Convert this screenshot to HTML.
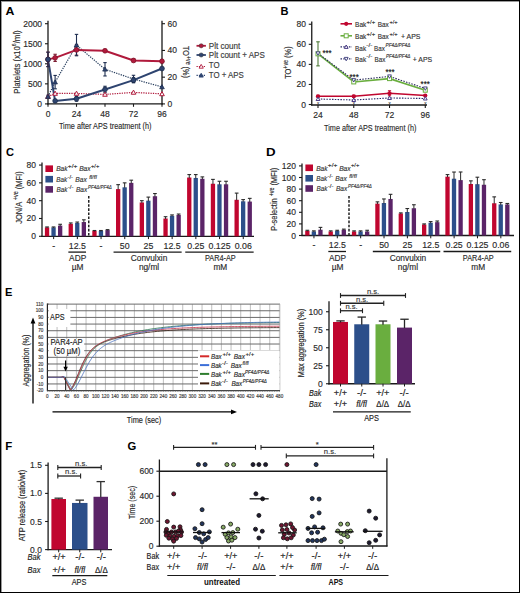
<!DOCTYPE html>
<html><head><meta charset="utf-8"><style>
html,body{margin:0;padding:0;background:#fff;}
svg{display:block;font-family:"Liberation Sans",sans-serif;}
</style></head><body>
<svg width="520" height="593" viewBox="0 0 520 593">
<rect x="0" y="0" width="520" height="593" fill="#fff"/>
<text x="5.6" y="15.4" font-size="11.5" fill="#000" font-weight="bold" textLength="8.9" lengthAdjust="spacingAndGlyphs">A</text>
<line x1="48" y1="20.8" x2="48" y2="104.4" stroke="#1a1a1a" stroke-width="1.3"/>
<line x1="47.35" y1="103.8" x2="162.6" y2="103.8" stroke="#1a1a1a" stroke-width="1.3"/>
<line x1="162" y1="20.8" x2="162" y2="104.4" stroke="#1a1a1a" stroke-width="1.3"/>
<line x1="45" y1="103.9" x2="48" y2="103.9" stroke="#1a1a1a" stroke-width="1.1"/>
<text x="42.1" y="106.9" font-size="8.5" fill="#2a2a2a" stroke="#2a2a2a" stroke-width="0.15" text-anchor="end">0</text>
<line x1="45" y1="83.85" x2="48" y2="83.85" stroke="#1a1a1a" stroke-width="1.1"/>
<text x="42.1" y="86.85" font-size="8.5" fill="#2a2a2a" stroke="#2a2a2a" stroke-width="0.15" text-anchor="end">500</text>
<line x1="45" y1="63.8" x2="48" y2="63.8" stroke="#1a1a1a" stroke-width="1.1"/>
<text x="42.1" y="66.8" font-size="8.5" fill="#2a2a2a" stroke="#2a2a2a" stroke-width="0.15" text-anchor="end">1000</text>
<line x1="45" y1="43.75" x2="48" y2="43.75" stroke="#1a1a1a" stroke-width="1.1"/>
<text x="42.1" y="46.75" font-size="8.5" fill="#2a2a2a" stroke="#2a2a2a" stroke-width="0.15" text-anchor="end">1500</text>
<line x1="45" y1="23.7" x2="48" y2="23.7" stroke="#1a1a1a" stroke-width="1.1"/>
<text x="42.1" y="26.7" font-size="8.5" fill="#2a2a2a" stroke="#2a2a2a" stroke-width="0.15" text-anchor="end">2000</text>
<line x1="162" y1="103.9" x2="165" y2="103.9" stroke="#1a1a1a" stroke-width="1.1"/>
<text x="167.6" y="106.9" font-size="8.5" fill="#2a2a2a" stroke="#2a2a2a" stroke-width="0.15">0</text>
<line x1="162" y1="77.17" x2="165" y2="77.17" stroke="#1a1a1a" stroke-width="1.1"/>
<text x="167.6" y="80.17" font-size="8.5" fill="#2a2a2a" stroke="#2a2a2a" stroke-width="0.15">20</text>
<line x1="162" y1="50.43" x2="165" y2="50.43" stroke="#1a1a1a" stroke-width="1.1"/>
<text x="167.6" y="53.43" font-size="8.5" fill="#2a2a2a" stroke="#2a2a2a" stroke-width="0.15">40</text>
<line x1="162" y1="23.7" x2="165" y2="23.7" stroke="#1a1a1a" stroke-width="1.1"/>
<text x="167.6" y="26.7" font-size="8.5" fill="#2a2a2a" stroke="#2a2a2a" stroke-width="0.15">60</text>
<line x1="48" y1="103.8" x2="48" y2="106.8" stroke="#1a1a1a" stroke-width="1.1"/>
<text x="48" y="117" font-size="8.5" fill="#2a2a2a" stroke="#2a2a2a" stroke-width="0.15" text-anchor="middle">0</text>
<line x1="76.5" y1="103.8" x2="76.5" y2="106.8" stroke="#1a1a1a" stroke-width="1.1"/>
<text x="76.5" y="117" font-size="8.5" fill="#2a2a2a" stroke="#2a2a2a" stroke-width="0.15" text-anchor="middle">24</text>
<line x1="105" y1="103.8" x2="105" y2="106.8" stroke="#1a1a1a" stroke-width="1.1"/>
<text x="105" y="117" font-size="8.5" fill="#2a2a2a" stroke="#2a2a2a" stroke-width="0.15" text-anchor="middle">48</text>
<line x1="133.5" y1="103.8" x2="133.5" y2="106.8" stroke="#1a1a1a" stroke-width="1.1"/>
<text x="133.5" y="117" font-size="8.5" fill="#2a2a2a" stroke="#2a2a2a" stroke-width="0.15" text-anchor="middle">72</text>
<line x1="162" y1="103.8" x2="162" y2="106.8" stroke="#1a1a1a" stroke-width="1.1"/>
<text x="162" y="117" font-size="8.5" fill="#2a2a2a" stroke="#2a2a2a" stroke-width="0.15" text-anchor="middle">96</text>
<text x="105.2" y="129.4" font-size="9.9" fill="#2a2a2a" stroke="#2a2a2a" stroke-width="0.15" text-anchor="middle" textLength="92.5" lengthAdjust="spacingAndGlyphs">Time after APS treatment (h)</text>
<text transform="translate(19.6,62) rotate(-90)" font-size="9.3" fill="#2a2a2a" stroke="#2a2a2a" stroke-width="0.15" text-anchor="middle" textLength="63.5" lengthAdjust="spacingAndGlyphs">Platelets (x10<tspan font-size="6" dy="-3.3">6</tspan><tspan dy="3.3">/ml)</tspan></text>
<text transform="translate(182.6,62) rotate(90)" font-size="9.2" fill="#2a2a2a" stroke="#2a2a2a" stroke-width="0.15" text-anchor="middle" textLength="32" lengthAdjust="spacingAndGlyphs">TO<tspan font-size="6.5" dy="-3.3">+ve</tspan><tspan dy="3.3"> (%)</tspan></text>
<polyline points="48,96.55 55.12,93.47 76.5,93.47 105,94.41 133.5,92.4 162,93.87" fill="none" stroke="#b01a3c" stroke-width="1.2" stroke-dasharray="1.3,1.1" stroke-linejoin="round"/>
<polyline points="48,96.55 55.12,82.11 76.5,45.09 105,69.28 133.5,79.04 162,86.92" fill="none" stroke="#2a4060" stroke-width="1.2" stroke-dasharray="1.3,1.1" stroke-linejoin="round"/>
<polyline points="48,59.39 55.12,57.87 76.5,49.93 105,50.77 133.5,60.47 162,61.27" fill="none" stroke="#b01a3c" stroke-width="2" stroke-linejoin="round"/>
<polyline points="48,59.39 55.12,100.89 76.5,98.81 105,89.46 133.5,80.08 162,68.53" fill="none" stroke="#2e4470" stroke-width="2" stroke-linejoin="round"/>
<line x1="48" y1="66.61" x2="48" y2="52.17" stroke="#7a1a30" stroke-width="1.1"/>
<line x1="46.3" y1="52.17" x2="49.7" y2="52.17" stroke="#7a1a30" stroke-width="1.1"/>
<line x1="46.3" y1="66.61" x2="49.7" y2="66.61" stroke="#7a1a30" stroke-width="1.1"/>
<line x1="55.12" y1="61.47" x2="55.12" y2="54.26" stroke="#7a1a30" stroke-width="1.1"/>
<line x1="53.42" y1="54.26" x2="56.83" y2="54.26" stroke="#7a1a30" stroke-width="1.1"/>
<line x1="53.42" y1="61.47" x2="56.83" y2="61.47" stroke="#7a1a30" stroke-width="1.1"/>
<line x1="76.5" y1="55.14" x2="76.5" y2="44.71" stroke="#7a1a30" stroke-width="1.1"/>
<line x1="74.8" y1="44.71" x2="78.2" y2="44.71" stroke="#7a1a30" stroke-width="1.1"/>
<line x1="74.8" y1="55.14" x2="78.2" y2="55.14" stroke="#7a1a30" stroke-width="1.1"/>
<line x1="133.5" y1="61.88" x2="133.5" y2="59.07" stroke="#7a1a30" stroke-width="1.1"/>
<line x1="131.8" y1="59.07" x2="135.2" y2="59.07" stroke="#7a1a30" stroke-width="1.1"/>
<line x1="131.8" y1="61.88" x2="135.2" y2="61.88" stroke="#7a1a30" stroke-width="1.1"/>
<line x1="48" y1="66.61" x2="48" y2="52.17" stroke="#1e2e50" stroke-width="1.1"/>
<line x1="46.3" y1="52.17" x2="49.7" y2="52.17" stroke="#1e2e50" stroke-width="1.1"/>
<line x1="46.3" y1="66.61" x2="49.7" y2="66.61" stroke="#1e2e50" stroke-width="1.1"/>
<line x1="76.5" y1="101.21" x2="76.5" y2="96.4" stroke="#1e2e50" stroke-width="1.1"/>
<line x1="74.8" y1="96.4" x2="78.2" y2="96.4" stroke="#1e2e50" stroke-width="1.1"/>
<line x1="74.8" y1="101.21" x2="78.2" y2="101.21" stroke="#1e2e50" stroke-width="1.1"/>
<line x1="105" y1="92.67" x2="105" y2="86.26" stroke="#1e2e50" stroke-width="1.1"/>
<line x1="103.3" y1="86.26" x2="106.7" y2="86.26" stroke="#1e2e50" stroke-width="1.1"/>
<line x1="103.3" y1="92.67" x2="106.7" y2="92.67" stroke="#1e2e50" stroke-width="1.1"/>
<line x1="133.5" y1="82.49" x2="133.5" y2="77.67" stroke="#1e2e50" stroke-width="1.1"/>
<line x1="131.8" y1="77.67" x2="135.2" y2="77.67" stroke="#1e2e50" stroke-width="1.1"/>
<line x1="131.8" y1="82.49" x2="135.2" y2="82.49" stroke="#1e2e50" stroke-width="1.1"/>
<line x1="48" y1="97.88" x2="48" y2="95.21" stroke="#1e2e50" stroke-width="1.1"/>
<line x1="46.3" y1="95.21" x2="49.7" y2="95.21" stroke="#1e2e50" stroke-width="1.1"/>
<line x1="46.3" y1="97.88" x2="49.7" y2="97.88" stroke="#1e2e50" stroke-width="1.1"/>
<line x1="55.12" y1="88.8" x2="55.12" y2="75.43" stroke="#1e2e50" stroke-width="1.1"/>
<line x1="53.42" y1="75.43" x2="56.83" y2="75.43" stroke="#1e2e50" stroke-width="1.1"/>
<line x1="53.42" y1="88.8" x2="56.83" y2="88.8" stroke="#1e2e50" stroke-width="1.1"/>
<line x1="76.5" y1="55.78" x2="76.5" y2="34.39" stroke="#1e2e50" stroke-width="1.1"/>
<line x1="74.8" y1="34.39" x2="78.2" y2="34.39" stroke="#1e2e50" stroke-width="1.1"/>
<line x1="74.8" y1="55.78" x2="78.2" y2="55.78" stroke="#1e2e50" stroke-width="1.1"/>
<line x1="105" y1="75.96" x2="105" y2="62.6" stroke="#1e2e50" stroke-width="1.1"/>
<line x1="103.3" y1="62.6" x2="106.7" y2="62.6" stroke="#1e2e50" stroke-width="1.1"/>
<line x1="103.3" y1="75.96" x2="106.7" y2="75.96" stroke="#1e2e50" stroke-width="1.1"/>
<line x1="133.5" y1="82.78" x2="133.5" y2="75.29" stroke="#1e2e50" stroke-width="1.1"/>
<line x1="131.8" y1="75.29" x2="135.2" y2="75.29" stroke="#1e2e50" stroke-width="1.1"/>
<line x1="131.8" y1="82.78" x2="135.2" y2="82.78" stroke="#1e2e50" stroke-width="1.1"/>
<polygon points="45.7,98.39 50.3,98.39 48,94.25" fill="#b01a3c" stroke="#b01a3c" stroke-width="1"/>
<polygon points="52.83,95.31 57.42,95.31 55.12,91.17" fill="white" stroke="#b01a3c" stroke-width="1"/>
<polygon points="74.2,95.31 78.8,95.31 76.5,91.17" fill="white" stroke="#b01a3c" stroke-width="1"/>
<polygon points="102.7,96.25 107.3,96.25 105,92.11" fill="white" stroke="#b01a3c" stroke-width="1"/>
<polygon points="131.2,94.24 135.8,94.24 133.5,90.1" fill="white" stroke="#b01a3c" stroke-width="1"/>
<polygon points="159.7,95.71 164.3,95.71 162,91.57" fill="white" stroke="#b01a3c" stroke-width="1"/>
<polygon points="45.7,98.39 50.3,98.39 48,94.25" fill="#2e4470" stroke="#1e2e50" stroke-width="0.8"/>
<polygon points="52.83,83.95 57.42,83.95 55.12,79.81" fill="#2e4470" stroke="#1e2e50" stroke-width="0.8"/>
<polygon points="74.2,46.93 78.8,46.93 76.5,42.79" fill="#2e4470" stroke="#1e2e50" stroke-width="0.8"/>
<polygon points="102.7,71.12 107.3,71.12 105,66.98" fill="#2e4470" stroke="#1e2e50" stroke-width="0.8"/>
<polygon points="131.2,80.88 135.8,80.88 133.5,76.74" fill="#2e4470" stroke="#1e2e50" stroke-width="0.8"/>
<polygon points="159.7,88.76 164.3,88.76 162,84.62" fill="#2e4470" stroke="#1e2e50" stroke-width="0.8"/>
<circle cx="48" cy="59.39" r="2.4" fill="#b01a3c" stroke="#7a1025" stroke-width="0.7"/>
<circle cx="55.12" cy="57.87" r="2.4" fill="#b01a3c" stroke="#7a1025" stroke-width="0.7"/>
<circle cx="76.5" cy="49.93" r="2.4" fill="#b01a3c" stroke="#7a1025" stroke-width="0.7"/>
<circle cx="105" cy="50.77" r="2.4" fill="#b01a3c" stroke="#7a1025" stroke-width="0.7"/>
<circle cx="133.5" cy="60.47" r="2.4" fill="#b01a3c" stroke="#7a1025" stroke-width="0.7"/>
<circle cx="162" cy="61.27" r="2.4" fill="#b01a3c" stroke="#7a1025" stroke-width="0.7"/>
<circle cx="48" cy="59.39" r="2.4" fill="#2e4470" stroke="#1a2a48" stroke-width="0.7"/>
<circle cx="55.12" cy="100.89" r="2.4" fill="#2e4470" stroke="#1a2a48" stroke-width="0.7"/>
<circle cx="76.5" cy="98.81" r="2.4" fill="#2e4470" stroke="#1a2a48" stroke-width="0.7"/>
<circle cx="105" cy="89.46" r="2.4" fill="#2e4470" stroke="#1a2a48" stroke-width="0.7"/>
<circle cx="133.5" cy="80.08" r="2.4" fill="#2e4470" stroke="#1a2a48" stroke-width="0.7"/>
<circle cx="162" cy="68.53" r="2.4" fill="#2e4470" stroke="#1a2a48" stroke-width="0.7"/>
<line x1="196.5" y1="45.8" x2="205.9" y2="45.8" stroke="#b01a3c" stroke-width="1.8"/>
<circle cx="201.2" cy="45.8" r="2.1" fill="#b01a3c" stroke="#333" stroke-width="0.5"/>
<text x="208.8" y="49" font-size="8.4" fill="#3a3a3a" stroke="#3a3a3a" stroke-width="0.15" textLength="31.5" lengthAdjust="spacingAndGlyphs">Plt count</text>
<line x1="196.5" y1="55" x2="205.9" y2="55" stroke="#2e4470" stroke-width="1.8"/>
<circle cx="201.2" cy="55" r="2.1" fill="#2e4470" stroke="#333" stroke-width="0.5"/>
<text x="208.8" y="57.7" font-size="8.4" fill="#3a3a3a" stroke="#3a3a3a" stroke-width="0.15" textLength="56" lengthAdjust="spacingAndGlyphs">Plt count + APS</text>
<line x1="196.5" y1="66.5" x2="205.9" y2="66.5" stroke="#b01a3c" stroke-width="1.1" stroke-dasharray="1.3,1.1"/>
<polygon points="199.1,68.18 203.3,68.18 201.2,64.4" fill="white" stroke="#b01a3c" stroke-width="0.9"/>
<text x="208.8" y="68.4" font-size="8.4" fill="#3a3a3a" stroke="#3a3a3a" stroke-width="0.15" textLength="10.8" lengthAdjust="spacingAndGlyphs">TO</text>
<line x1="196.5" y1="75.4" x2="205.9" y2="75.4" stroke="#2e4470" stroke-width="1.1" stroke-dasharray="1.3,1.1"/>
<polygon points="199.1,77.08 203.3,77.08 201.2,73.3" fill="#2e4470" stroke="#2e4470" stroke-width="0.9"/>
<text x="208.8" y="78.4" font-size="8.4" fill="#3a3a3a" stroke="#3a3a3a" stroke-width="0.15" textLength="35" lengthAdjust="spacingAndGlyphs">TO + APS</text>
<text x="280.5" y="15.3" font-size="11.5" fill="#000" font-weight="bold" textLength="8" lengthAdjust="spacingAndGlyphs">B</text>
<line x1="311.75" y1="21.5" x2="311.75" y2="105.6" stroke="#1a1a1a" stroke-width="1.3"/>
<line x1="311.1" y1="105" x2="427" y2="105" stroke="#1a1a1a" stroke-width="1.3"/>
<line x1="308.75" y1="104.5" x2="311.75" y2="104.5" stroke="#1a1a1a" stroke-width="1.1"/>
<text x="305.9" y="107.5" font-size="8.5" fill="#2a2a2a" stroke="#2a2a2a" stroke-width="0.15" text-anchor="end">0</text>
<line x1="308.75" y1="84.44" x2="311.75" y2="84.44" stroke="#1a1a1a" stroke-width="1.1"/>
<text x="305.9" y="87.44" font-size="8.5" fill="#2a2a2a" stroke="#2a2a2a" stroke-width="0.15" text-anchor="end">20</text>
<line x1="308.75" y1="64.38" x2="311.75" y2="64.38" stroke="#1a1a1a" stroke-width="1.1"/>
<text x="305.9" y="67.38" font-size="8.5" fill="#2a2a2a" stroke="#2a2a2a" stroke-width="0.15" text-anchor="end">40</text>
<line x1="308.75" y1="44.32" x2="311.75" y2="44.32" stroke="#1a1a1a" stroke-width="1.1"/>
<text x="305.9" y="47.32" font-size="8.5" fill="#2a2a2a" stroke="#2a2a2a" stroke-width="0.15" text-anchor="end">60</text>
<line x1="308.75" y1="24.26" x2="311.75" y2="24.26" stroke="#1a1a1a" stroke-width="1.1"/>
<text x="305.9" y="27.26" font-size="8.5" fill="#2a2a2a" stroke="#2a2a2a" stroke-width="0.15" text-anchor="end">80</text>
<line x1="318" y1="105" x2="318" y2="108" stroke="#1a1a1a" stroke-width="1.1"/>
<text x="318" y="118" font-size="8.5" fill="#2a2a2a" stroke="#2a2a2a" stroke-width="0.15" text-anchor="middle">24</text>
<line x1="353.76" y1="105" x2="353.76" y2="108" stroke="#1a1a1a" stroke-width="1.1"/>
<text x="353.76" y="118" font-size="8.5" fill="#2a2a2a" stroke="#2a2a2a" stroke-width="0.15" text-anchor="middle">48</text>
<line x1="389.52" y1="105" x2="389.52" y2="108" stroke="#1a1a1a" stroke-width="1.1"/>
<text x="389.52" y="118" font-size="8.5" fill="#2a2a2a" stroke="#2a2a2a" stroke-width="0.15" text-anchor="middle">72</text>
<line x1="425.28" y1="105" x2="425.28" y2="108" stroke="#1a1a1a" stroke-width="1.1"/>
<text x="425.28" y="118" font-size="8.5" fill="#2a2a2a" stroke="#2a2a2a" stroke-width="0.15" text-anchor="middle">96</text>
<text x="370.2" y="130.5" font-size="9.9" fill="#2a2a2a" stroke="#2a2a2a" stroke-width="0.15" text-anchor="middle" textLength="92.3" lengthAdjust="spacingAndGlyphs">Time after APS treatment (h)</text>
<text transform="translate(291,62.6) rotate(-90)" font-size="9.2" fill="#2a2a2a" stroke="#2a2a2a" stroke-width="0.15" text-anchor="middle" textLength="32.5" lengthAdjust="spacingAndGlyphs">TO<tspan font-size="6.5" dy="-3.3">+ve</tspan><tspan dy="3.3"> (%)</tspan></text>
<polyline points="318,98.98 353.76,99.99 389.52,97.98 425.28,98.48" fill="none" stroke="#2a2a6a" stroke-width="1.1" stroke-dasharray="1.5,1.3" stroke-linejoin="round"/>
<polyline points="318,53.85 353.76,81.93 389.52,78.62 425.28,90.16" fill="none" stroke="#6aae3f" stroke-width="1.6" stroke-linejoin="round"/>
<polyline points="318,53.35 353.76,80.13 389.52,76.42 425.28,88.45" fill="none" stroke="#2a2a5a" stroke-width="1.1" stroke-dasharray="1.5,1.3" stroke-linejoin="round"/>
<polyline points="318,96.28 353.76,96.28 389.52,93.27 425.28,95.57" fill="none" stroke="#c0062f" stroke-width="1.6" stroke-linejoin="round"/>
<line x1="318" y1="65.88" x2="318" y2="41.81" stroke="#4f7a3a" stroke-width="1.1"/>
<line x1="316.2" y1="41.81" x2="319.8" y2="41.81" stroke="#4f7a3a" stroke-width="1.1"/>
<line x1="316.2" y1="65.88" x2="319.8" y2="65.88" stroke="#4f7a3a" stroke-width="1.1"/>
<line x1="353.76" y1="83.44" x2="353.76" y2="80.43" stroke="#4f7a3a" stroke-width="1.1"/>
<line x1="351.96" y1="80.43" x2="355.56" y2="80.43" stroke="#4f7a3a" stroke-width="1.1"/>
<line x1="351.96" y1="83.44" x2="355.56" y2="83.44" stroke="#4f7a3a" stroke-width="1.1"/>
<line x1="389.52" y1="80.13" x2="389.52" y2="77.12" stroke="#4f7a3a" stroke-width="1.1"/>
<line x1="387.72" y1="77.12" x2="391.32" y2="77.12" stroke="#4f7a3a" stroke-width="1.1"/>
<line x1="387.72" y1="80.13" x2="391.32" y2="80.13" stroke="#4f7a3a" stroke-width="1.1"/>
<line x1="425.28" y1="91.66" x2="425.28" y2="88.65" stroke="#4f7a3a" stroke-width="1.1"/>
<line x1="423.48" y1="88.65" x2="427.08" y2="88.65" stroke="#4f7a3a" stroke-width="1.1"/>
<line x1="423.48" y1="91.66" x2="427.08" y2="91.66" stroke="#4f7a3a" stroke-width="1.1"/>
<line x1="318" y1="97.28" x2="318" y2="95.27" stroke="#c0062f" stroke-width="1"/>
<line x1="316.4" y1="95.27" x2="319.6" y2="95.27" stroke="#c0062f" stroke-width="1"/>
<line x1="316.4" y1="97.28" x2="319.6" y2="97.28" stroke="#c0062f" stroke-width="1"/>
<line x1="353.76" y1="97.28" x2="353.76" y2="95.27" stroke="#c0062f" stroke-width="1"/>
<line x1="352.16" y1="95.27" x2="355.36" y2="95.27" stroke="#c0062f" stroke-width="1"/>
<line x1="352.16" y1="97.28" x2="355.36" y2="97.28" stroke="#c0062f" stroke-width="1"/>
<line x1="389.52" y1="95.77" x2="389.52" y2="90.76" stroke="#c0062f" stroke-width="1"/>
<line x1="387.92" y1="90.76" x2="391.12" y2="90.76" stroke="#c0062f" stroke-width="1"/>
<line x1="387.92" y1="95.77" x2="391.12" y2="95.77" stroke="#c0062f" stroke-width="1"/>
<line x1="425.28" y1="96.58" x2="425.28" y2="94.57" stroke="#c0062f" stroke-width="1"/>
<line x1="423.68" y1="94.57" x2="426.88" y2="94.57" stroke="#c0062f" stroke-width="1"/>
<line x1="423.68" y1="96.58" x2="426.88" y2="96.58" stroke="#c0062f" stroke-width="1"/>
<rect x="316" y="51.85" width="4" height="4" fill="white" stroke="#6aae3f" stroke-width="1"/>
<rect x="351.76" y="79.93" width="4" height="4" fill="white" stroke="#6aae3f" stroke-width="1"/>
<rect x="387.52" y="76.62" width="4" height="4" fill="white" stroke="#6aae3f" stroke-width="1"/>
<rect x="423.28" y="88.16" width="4" height="4" fill="white" stroke="#6aae3f" stroke-width="1"/>
<polygon points="316.1,51.83 319.9,51.83 318,55.25" fill="white" stroke="#3a3a7a" stroke-width="0.9"/>
<polygon points="351.86,78.61 355.66,78.61 353.76,82.03" fill="white" stroke="#3a3a7a" stroke-width="0.9"/>
<polygon points="387.62,74.9 391.42,74.9 389.52,78.32" fill="white" stroke="#3a3a7a" stroke-width="0.9"/>
<polygon points="423.38,86.93 427.18,86.93 425.28,90.35" fill="white" stroke="#3a3a7a" stroke-width="0.9"/>
<circle cx="318" cy="96.28" r="2.1" fill="#c0062f"/>
<circle cx="353.76" cy="96.28" r="2.1" fill="#c0062f"/>
<circle cx="389.52" cy="93.27" r="2.1" fill="#c0062f"/>
<circle cx="425.28" cy="95.57" r="2.1" fill="#c0062f"/>
<polygon points="316.1,100.5 319.9,100.5 318,97.08" fill="white" stroke="#3a2a7a" stroke-width="0.9"/>
<polygon points="351.86,101.51 355.66,101.51 353.76,98.09" fill="white" stroke="#3a2a7a" stroke-width="0.9"/>
<polygon points="387.62,99.5 391.42,99.5 389.52,96.08" fill="white" stroke="#3a2a7a" stroke-width="0.9"/>
<polygon points="423.38,100 427.18,100 425.28,96.58" fill="white" stroke="#3a2a7a" stroke-width="0.9"/>
<text x="318" y="105" font-size="4.5" fill="#444" stroke="#444" stroke-width="0.15" text-anchor="middle">x</text>
<text x="353.76" y="105" font-size="4.5" fill="#444" stroke="#444" stroke-width="0.15" text-anchor="middle">x</text>
<text x="389.52" y="105" font-size="4.5" fill="#444" stroke="#444" stroke-width="0.15" text-anchor="middle">x</text>
<text x="425.28" y="105" font-size="4.5" fill="#444" stroke="#444" stroke-width="0.15" text-anchor="middle">x</text>
<text x="327" y="55.5" font-size="9" fill="#111" stroke="#111" stroke-width="0.15" text-anchor="middle" textLength="9.2" lengthAdjust="spacingAndGlyphs">***</text>
<text x="354.1" y="80.2" font-size="9" fill="#111" stroke="#111" stroke-width="0.15" text-anchor="middle" textLength="9.2" lengthAdjust="spacingAndGlyphs">***</text>
<text x="390" y="75.1" font-size="9" fill="#111" stroke="#111" stroke-width="0.15" text-anchor="middle" textLength="9.2" lengthAdjust="spacingAndGlyphs">***</text>
<text x="425.2" y="86.7" font-size="9" fill="#111" stroke="#111" stroke-width="0.15" text-anchor="middle" textLength="9.2" lengthAdjust="spacingAndGlyphs">***</text>
<line x1="340.5" y1="23.8" x2="352" y2="23.8" stroke="#c0062f" stroke-width="1.6"/>
<circle cx="346.2" cy="23.8" r="2.1" fill="#c0062f"/>
<line x1="340.5" y1="35.8" x2="352" y2="35.8" stroke="#6aae3f" stroke-width="1.6"/>
<rect x="344.2" y="33.8" width="4" height="4" fill="white" stroke="#6aae3f" stroke-width="1"/>
<line x1="340.5" y1="46.9" x2="352" y2="46.9" stroke="#2a2a6a" stroke-width="1.1" stroke-dasharray="1.5,1.3"/>
<polygon points="344.3,48.42 348.1,48.42 346.2,45" fill="white" stroke="#3a2a7a" stroke-width="0.9"/>
<line x1="340.5" y1="58.9" x2="352" y2="58.9" stroke="#2a2a6a" stroke-width="1.1" stroke-dasharray="1.5,1.3"/>
<polygon points="344.3,57.38 348.1,57.38 346.2,60.8" fill="white" stroke="#3a3a7a" stroke-width="0.9"/>
<text x="355.1" y="27.3" font-size="7.3" fill="#333" stroke="#333" stroke-width="0.15" textLength="11.2" lengthAdjust="spacingAndGlyphs">Bak</text>
<text x="366.6" y="24.1" font-size="5.26" fill="#333" stroke="#333" stroke-width="0.15" textLength="8.5" lengthAdjust="spacingAndGlyphs">+/+</text>
<text x="377.8" y="27.3" font-size="7.3" fill="#333" stroke="#333" stroke-width="0.15" textLength="11" lengthAdjust="spacingAndGlyphs">Bax</text>
<text x="389.5" y="24.1" font-size="5.26" fill="#333" stroke="#333" stroke-width="0.15" textLength="8.1" lengthAdjust="spacingAndGlyphs">+/+</text>
<text x="355.1" y="38.9" font-size="7.3" fill="#333" stroke="#333" stroke-width="0.15" textLength="11.2" lengthAdjust="spacingAndGlyphs">Bak</text>
<text x="366.6" y="35.7" font-size="5.26" fill="#333" stroke="#333" stroke-width="0.15" textLength="8.5" lengthAdjust="spacingAndGlyphs">+/+</text>
<text x="377.8" y="38.9" font-size="7.3" fill="#333" stroke="#333" stroke-width="0.15" textLength="11" lengthAdjust="spacingAndGlyphs">Bax</text>
<text x="389.5" y="35.7" font-size="5.26" fill="#333" stroke="#333" stroke-width="0.15" textLength="8.1" lengthAdjust="spacingAndGlyphs">+/+</text>
<text x="401" y="38.9" font-size="7.3" fill="#333" stroke="#333" stroke-width="0.15" textLength="19.5" lengthAdjust="spacingAndGlyphs">+ APS</text>
<text x="355.1" y="50.5" font-size="7.3" fill="#333" stroke="#333" stroke-width="0.15" textLength="11" lengthAdjust="spacingAndGlyphs">Bak</text>
<text x="366.3" y="47.3" font-size="5.26" fill="#333" stroke="#333" stroke-width="0.15" textLength="6" lengthAdjust="spacingAndGlyphs">-/-</text>
<text x="374" y="50.5" font-size="7.3" fill="#333" stroke="#333" stroke-width="0.15" textLength="10.8" lengthAdjust="spacingAndGlyphs">Bax</text>
<text x="385.5" y="47.3" font-size="5.26" fill="#333" stroke="#333" stroke-width="0.15" font-style="italic" textLength="24.9" lengthAdjust="spacingAndGlyphs">PF4Δ/PF4Δ</text>
<text x="355.1" y="61.5" font-size="7.3" fill="#333" stroke="#333" stroke-width="0.15" textLength="11" lengthAdjust="spacingAndGlyphs">Bak</text>
<text x="366.3" y="58.3" font-size="5.26" fill="#333" stroke="#333" stroke-width="0.15" textLength="6" lengthAdjust="spacingAndGlyphs">-/-</text>
<text x="374.6" y="61.5" font-size="7.3" fill="#333" stroke="#333" stroke-width="0.15" textLength="10.8" lengthAdjust="spacingAndGlyphs">Bax</text>
<text x="385.9" y="58.3" font-size="5.26" fill="#333" stroke="#333" stroke-width="0.15" font-style="italic" textLength="24.5" lengthAdjust="spacingAndGlyphs">PF4Δ/PF4Δ</text>
<text x="412.8" y="61.5" font-size="7.3" fill="#333" stroke="#333" stroke-width="0.15" textLength="19.4" lengthAdjust="spacingAndGlyphs">+ APS</text>
<text x="5.9" y="155.5" font-size="11.5" fill="#000" font-weight="bold" textLength="8" lengthAdjust="spacingAndGlyphs">C</text>
<line x1="42" y1="162.55" x2="42" y2="236.9" stroke="#1a1a1a" stroke-width="1.3"/>
<line x1="41.4" y1="236.3" x2="254" y2="236.3" stroke="#1a1a1a" stroke-width="1.3"/>
<line x1="39" y1="236.3" x2="42" y2="236.3" stroke="#1a1a1a" stroke-width="1.1"/>
<text x="36" y="239.3" font-size="8.5" fill="#2a2a2a" stroke="#2a2a2a" stroke-width="0.15" text-anchor="end">0</text>
<line x1="39" y1="218.49" x2="42" y2="218.49" stroke="#1a1a1a" stroke-width="1.1"/>
<text x="36" y="221.49" font-size="8.5" fill="#2a2a2a" stroke="#2a2a2a" stroke-width="0.15" text-anchor="end">20</text>
<line x1="39" y1="200.68" x2="42" y2="200.68" stroke="#1a1a1a" stroke-width="1.1"/>
<text x="36" y="203.68" font-size="8.5" fill="#2a2a2a" stroke="#2a2a2a" stroke-width="0.15" text-anchor="end">40</text>
<line x1="39" y1="182.86" x2="42" y2="182.86" stroke="#1a1a1a" stroke-width="1.1"/>
<text x="36" y="185.86" font-size="8.5" fill="#2a2a2a" stroke="#2a2a2a" stroke-width="0.15" text-anchor="end">60</text>
<line x1="39" y1="165.05" x2="42" y2="165.05" stroke="#1a1a1a" stroke-width="1.1"/>
<text x="36" y="168.05" font-size="8.5" fill="#2a2a2a" stroke="#2a2a2a" stroke-width="0.15" text-anchor="end">80</text>
<rect x="44.9" y="227.39" width="4.3" height="8.91" fill="#c0062f"/>
<line x1="47.05" y1="227.89" x2="47.05" y2="226.95" stroke="#2a2a2a" stroke-width="1"/>
<line x1="45.2" y1="226.95" x2="48.9" y2="226.95" stroke="#2a2a2a" stroke-width="1.1"/>
<rect x="51.4" y="227.39" width="4.3" height="8.91" fill="#2c4f8a"/>
<line x1="53.55" y1="227.89" x2="53.55" y2="226.95" stroke="#2a2a2a" stroke-width="1"/>
<line x1="51.7" y1="226.95" x2="55.4" y2="226.95" stroke="#2a2a2a" stroke-width="1.1"/>
<rect x="58" y="225.61" width="4.3" height="10.69" fill="#5b2468"/>
<line x1="60.15" y1="226.11" x2="60.15" y2="224.28" stroke="#2a2a2a" stroke-width="1"/>
<line x1="58.3" y1="224.28" x2="62" y2="224.28" stroke="#2a2a2a" stroke-width="1.1"/>
<line x1="53.65" y1="236.3" x2="53.65" y2="239.1" stroke="#1a1a1a" stroke-width="1"/>
<rect x="68.6" y="223.83" width="4.3" height="12.47" fill="#c0062f"/>
<line x1="70.75" y1="224.33" x2="70.75" y2="222.94" stroke="#2a2a2a" stroke-width="1"/>
<line x1="68.9" y1="222.94" x2="72.6" y2="222.94" stroke="#2a2a2a" stroke-width="1.1"/>
<rect x="75.1" y="222.94" width="4.3" height="13.36" fill="#2c4f8a"/>
<line x1="77.25" y1="223.44" x2="77.25" y2="222.05" stroke="#2a2a2a" stroke-width="1"/>
<line x1="75.4" y1="222.05" x2="79.1" y2="222.05" stroke="#2a2a2a" stroke-width="1.1"/>
<rect x="81.7" y="222.05" width="4.3" height="14.25" fill="#5b2468"/>
<line x1="83.85" y1="222.55" x2="83.85" y2="219.82" stroke="#2a2a2a" stroke-width="1"/>
<line x1="82" y1="219.82" x2="85.7" y2="219.82" stroke="#2a2a2a" stroke-width="1.1"/>
<line x1="77.35" y1="236.3" x2="77.35" y2="239.1" stroke="#1a1a1a" stroke-width="1"/>
<rect x="92.3" y="230.96" width="4.3" height="5.34" fill="#c0062f"/>
<line x1="94.45" y1="231.46" x2="94.45" y2="230.51" stroke="#2a2a2a" stroke-width="1"/>
<line x1="92.6" y1="230.51" x2="96.3" y2="230.51" stroke="#2a2a2a" stroke-width="1.1"/>
<rect x="98.8" y="230.96" width="4.3" height="5.34" fill="#2c4f8a"/>
<line x1="100.95" y1="231.46" x2="100.95" y2="230.51" stroke="#2a2a2a" stroke-width="1"/>
<line x1="99.1" y1="230.51" x2="102.8" y2="230.51" stroke="#2a2a2a" stroke-width="1.1"/>
<rect x="105.4" y="230.07" width="4.3" height="6.23" fill="#5b2468"/>
<line x1="107.55" y1="230.57" x2="107.55" y2="229.62" stroke="#2a2a2a" stroke-width="1"/>
<line x1="105.7" y1="229.62" x2="109.4" y2="229.62" stroke="#2a2a2a" stroke-width="1.1"/>
<line x1="101.05" y1="236.3" x2="101.05" y2="239.1" stroke="#1a1a1a" stroke-width="1"/>
<rect x="116" y="189.1" width="4.3" height="47.2" fill="#c0062f"/>
<line x1="118.15" y1="189.6" x2="118.15" y2="184.65" stroke="#2a2a2a" stroke-width="1"/>
<line x1="116.3" y1="184.65" x2="120" y2="184.65" stroke="#2a2a2a" stroke-width="1.1"/>
<rect x="122.5" y="187.32" width="4.3" height="48.98" fill="#2c4f8a"/>
<line x1="124.65" y1="187.82" x2="124.65" y2="182.86" stroke="#2a2a2a" stroke-width="1"/>
<line x1="122.8" y1="182.86" x2="126.5" y2="182.86" stroke="#2a2a2a" stroke-width="1.1"/>
<rect x="129.1" y="182.86" width="4.3" height="53.44" fill="#5b2468"/>
<line x1="131.25" y1="183.36" x2="131.25" y2="180.19" stroke="#2a2a2a" stroke-width="1"/>
<line x1="129.4" y1="180.19" x2="133.1" y2="180.19" stroke="#2a2a2a" stroke-width="1.1"/>
<line x1="124.75" y1="236.3" x2="124.75" y2="239.1" stroke="#1a1a1a" stroke-width="1"/>
<rect x="139.7" y="202.46" width="4.3" height="33.84" fill="#c0062f"/>
<line x1="141.85" y1="202.96" x2="141.85" y2="200.68" stroke="#2a2a2a" stroke-width="1"/>
<line x1="140" y1="200.68" x2="143.7" y2="200.68" stroke="#2a2a2a" stroke-width="1.1"/>
<rect x="146.2" y="200.68" width="4.3" height="35.62" fill="#2c4f8a"/>
<line x1="148.35" y1="201.18" x2="148.35" y2="197.11" stroke="#2a2a2a" stroke-width="1"/>
<line x1="146.5" y1="197.11" x2="150.2" y2="197.11" stroke="#2a2a2a" stroke-width="1.1"/>
<rect x="152.8" y="196.22" width="4.3" height="40.08" fill="#5b2468"/>
<line x1="154.95" y1="196.72" x2="154.95" y2="193.55" stroke="#2a2a2a" stroke-width="1"/>
<line x1="153.1" y1="193.55" x2="156.8" y2="193.55" stroke="#2a2a2a" stroke-width="1.1"/>
<line x1="148.45" y1="236.3" x2="148.45" y2="239.1" stroke="#1a1a1a" stroke-width="1"/>
<rect x="163.4" y="218.49" width="4.3" height="17.81" fill="#c0062f"/>
<line x1="165.55" y1="218.99" x2="165.55" y2="216.71" stroke="#2a2a2a" stroke-width="1"/>
<line x1="163.7" y1="216.71" x2="167.4" y2="216.71" stroke="#2a2a2a" stroke-width="1.1"/>
<rect x="169.9" y="215.82" width="4.3" height="20.48" fill="#2c4f8a"/>
<line x1="172.05" y1="216.32" x2="172.05" y2="214.93" stroke="#2a2a2a" stroke-width="1"/>
<line x1="170.2" y1="214.93" x2="173.9" y2="214.93" stroke="#2a2a2a" stroke-width="1.1"/>
<rect x="176.5" y="214.93" width="4.3" height="21.37" fill="#5b2468"/>
<line x1="178.65" y1="215.43" x2="178.65" y2="214.04" stroke="#2a2a2a" stroke-width="1"/>
<line x1="176.8" y1="214.04" x2="180.5" y2="214.04" stroke="#2a2a2a" stroke-width="1.1"/>
<line x1="172.15" y1="236.3" x2="172.15" y2="239.1" stroke="#1a1a1a" stroke-width="1"/>
<rect x="187.1" y="177.52" width="4.3" height="58.78" fill="#c0062f"/>
<line x1="189.25" y1="178.02" x2="189.25" y2="174.58" stroke="#2a2a2a" stroke-width="1"/>
<line x1="187.4" y1="174.58" x2="191.1" y2="174.58" stroke="#2a2a2a" stroke-width="1.1"/>
<rect x="193.6" y="177.97" width="4.3" height="58.33" fill="#2c4f8a"/>
<line x1="195.75" y1="178.47" x2="195.75" y2="174.58" stroke="#2a2a2a" stroke-width="1"/>
<line x1="193.9" y1="174.58" x2="197.6" y2="174.58" stroke="#2a2a2a" stroke-width="1.1"/>
<rect x="200.2" y="178.77" width="4.3" height="57.53" fill="#5b2468"/>
<line x1="202.35" y1="179.27" x2="202.35" y2="176.9" stroke="#2a2a2a" stroke-width="1"/>
<line x1="200.5" y1="176.9" x2="204.2" y2="176.9" stroke="#2a2a2a" stroke-width="1.1"/>
<line x1="195.85" y1="236.3" x2="195.85" y2="239.1" stroke="#1a1a1a" stroke-width="1"/>
<rect x="210.8" y="183.75" width="4.3" height="52.55" fill="#c0062f"/>
<line x1="212.95" y1="184.25" x2="212.95" y2="179.39" stroke="#2a2a2a" stroke-width="1"/>
<line x1="211.1" y1="179.39" x2="214.8" y2="179.39" stroke="#2a2a2a" stroke-width="1.1"/>
<rect x="217.3" y="184.29" width="4.3" height="52.01" fill="#2c4f8a"/>
<line x1="219.45" y1="184.79" x2="219.45" y2="181.26" stroke="#2a2a2a" stroke-width="1"/>
<line x1="217.6" y1="181.26" x2="221.3" y2="181.26" stroke="#2a2a2a" stroke-width="1.1"/>
<rect x="223.9" y="184.29" width="4.3" height="52.01" fill="#5b2468"/>
<line x1="226.05" y1="184.79" x2="226.05" y2="181.26" stroke="#2a2a2a" stroke-width="1"/>
<line x1="224.2" y1="181.26" x2="227.9" y2="181.26" stroke="#2a2a2a" stroke-width="1.1"/>
<line x1="219.55" y1="236.3" x2="219.55" y2="239.1" stroke="#1a1a1a" stroke-width="1"/>
<rect x="234.5" y="199.79" width="4.3" height="36.51" fill="#c0062f"/>
<line x1="236.65" y1="200.29" x2="236.65" y2="193.11" stroke="#2a2a2a" stroke-width="1"/>
<line x1="234.8" y1="193.11" x2="238.5" y2="193.11" stroke="#2a2a2a" stroke-width="1.1"/>
<rect x="241" y="201.3" width="4.3" height="35" fill="#2c4f8a"/>
<line x1="243.15" y1="201.8" x2="243.15" y2="199.61" stroke="#2a2a2a" stroke-width="1"/>
<line x1="241.3" y1="199.61" x2="245" y2="199.61" stroke="#2a2a2a" stroke-width="1.1"/>
<rect x="247.6" y="201.57" width="4.3" height="34.73" fill="#5b2468"/>
<line x1="249.75" y1="202.07" x2="249.75" y2="198.36" stroke="#2a2a2a" stroke-width="1"/>
<line x1="247.9" y1="198.36" x2="251.6" y2="198.36" stroke="#2a2a2a" stroke-width="1.1"/>
<line x1="243.25" y1="236.3" x2="243.25" y2="239.1" stroke="#1a1a1a" stroke-width="1"/>
<line x1="88.75" y1="196" x2="88.75" y2="236.3" stroke="#222" stroke-width="1.5" stroke-dasharray="2.6,1.5"/>
<text x="53.65" y="248.9" font-size="8.8" fill="#2a2a2a" stroke="#2a2a2a" stroke-width="0.15" text-anchor="middle">-</text>
<text x="77.35" y="248.9" font-size="8.8" fill="#2a2a2a" stroke="#2a2a2a" stroke-width="0.15" text-anchor="middle">12.5</text>
<text x="101.05" y="248.9" font-size="8.8" fill="#2a2a2a" stroke="#2a2a2a" stroke-width="0.15" text-anchor="middle">-</text>
<text x="124.75" y="248.9" font-size="8.8" fill="#2a2a2a" stroke="#2a2a2a" stroke-width="0.15" text-anchor="middle">50</text>
<text x="148.45" y="248.9" font-size="8.8" fill="#2a2a2a" stroke="#2a2a2a" stroke-width="0.15" text-anchor="middle">25</text>
<text x="172.15" y="248.9" font-size="8.8" fill="#2a2a2a" stroke="#2a2a2a" stroke-width="0.15" text-anchor="middle">12.5</text>
<text x="195.85" y="248.9" font-size="8.8" fill="#2a2a2a" stroke="#2a2a2a" stroke-width="0.15" text-anchor="middle">0.25</text>
<text x="219.55" y="248.9" font-size="8.8" fill="#2a2a2a" stroke="#2a2a2a" stroke-width="0.15" text-anchor="middle">0.125</text>
<text x="243.25" y="248.9" font-size="8.8" fill="#2a2a2a" stroke="#2a2a2a" stroke-width="0.15" text-anchor="middle">0.06</text>
<line x1="68.35" y1="252.1" x2="86.05" y2="252.1" stroke="#1a1a1a" stroke-width="1.3"/>
<line x1="113.55" y1="252.1" x2="181.65" y2="252.1" stroke="#1a1a1a" stroke-width="1.3"/>
<line x1="185.25" y1="252.1" x2="253.65" y2="252.1" stroke="#1a1a1a" stroke-width="1.3"/>
<text x="77.65" y="260.5" font-size="8.3" fill="#2a2a2a" stroke="#2a2a2a" stroke-width="0.15" text-anchor="middle">ADP</text>
<text x="77.65" y="270.3" font-size="8.3" fill="#2a2a2a" stroke="#2a2a2a" stroke-width="0.15" text-anchor="middle">µM</text>
<text x="149.05" y="260.5" font-size="8.3" fill="#2a2a2a" stroke="#2a2a2a" stroke-width="0.15" text-anchor="middle">Convulxin</text>
<text x="149.05" y="270.3" font-size="8.3" fill="#2a2a2a" stroke="#2a2a2a" stroke-width="0.15" text-anchor="middle">ng/ml</text>
<text x="220.35" y="260.5" font-size="8.3" fill="#2a2a2a" stroke="#2a2a2a" stroke-width="0.15" text-anchor="middle" textLength="30.8" lengthAdjust="spacingAndGlyphs">PAR4-AP</text>
<text x="220.35" y="270.3" font-size="8.3" fill="#2a2a2a" stroke="#2a2a2a" stroke-width="0.15" text-anchor="middle">mM</text>
<text transform="translate(21.5,197.6) rotate(-90)" font-size="9" fill="#2a2a2a" stroke="#2a2a2a" stroke-width="0.15" text-anchor="middle" textLength="52.5" lengthAdjust="spacingAndGlyphs">JON/A <tspan font-size="6.5" dy="-3.3">+ve</tspan><tspan dy="3.3"> (MFI)</tspan></text>
<rect x="45.4" y="165.4" width="7.6" height="6.6" fill="#c0062f"/>
<rect x="45.4" y="175.9" width="7.6" height="6.6" fill="#2c4f8a"/>
<rect x="45.4" y="186.1" width="7.6" height="6.6" fill="#5b2468"/>
<text x="56.2" y="171.4" font-size="7.5" fill="#333" stroke="#333" stroke-width="0.15" font-style="italic" textLength="11.3" lengthAdjust="spacingAndGlyphs">Bak</text>
<text x="67.8" y="168.2" font-size="5.4" fill="#333" stroke="#333" stroke-width="0.15" textLength="9.6" lengthAdjust="spacingAndGlyphs">+/+</text>
<text x="79.2" y="171.4" font-size="7.5" fill="#333" stroke="#333" stroke-width="0.15" font-style="italic" textLength="11.4" lengthAdjust="spacingAndGlyphs">Bax</text>
<text x="91" y="168.2" font-size="5.4" fill="#333" stroke="#333" stroke-width="0.15" textLength="8.2" lengthAdjust="spacingAndGlyphs">+/+</text>
<text x="56.3" y="182.2" font-size="7.5" fill="#333" stroke="#333" stroke-width="0.15" font-style="italic" textLength="10.8" lengthAdjust="spacingAndGlyphs">Bak</text>
<text x="67.6" y="179" font-size="5.4" fill="#333" stroke="#333" stroke-width="0.15" textLength="5.4" lengthAdjust="spacingAndGlyphs">-/-</text>
<text x="75.3" y="182.2" font-size="7.5" fill="#333" stroke="#333" stroke-width="0.15" font-style="italic" textLength="11.4" lengthAdjust="spacingAndGlyphs">Bax</text>
<text x="89.2" y="179" font-size="5.4" fill="#333" stroke="#333" stroke-width="0.15" font-style="italic" textLength="7.5" lengthAdjust="spacingAndGlyphs">fl/fl</text>
<text x="56.6" y="191.9" font-size="7.5" fill="#333" stroke="#333" stroke-width="0.15" font-style="italic" textLength="10.8" lengthAdjust="spacingAndGlyphs">Bak</text>
<text x="67.8" y="188.7" font-size="5.4" fill="#333" stroke="#333" stroke-width="0.15" textLength="5.6" lengthAdjust="spacingAndGlyphs">-/-</text>
<text x="75.9" y="191.9" font-size="7.5" fill="#333" stroke="#333" stroke-width="0.15" font-style="italic" textLength="11.3" lengthAdjust="spacingAndGlyphs">Bax</text>
<text x="88" y="188.7" font-size="5.4" fill="#333" stroke="#333" stroke-width="0.15" font-style="italic" textLength="23.7" lengthAdjust="spacingAndGlyphs">PF4Δ/PF4Δ</text>
<text x="265.9" y="155.5" font-size="11.5" fill="#000" font-weight="bold" textLength="9.6" lengthAdjust="spacingAndGlyphs">D</text>
<line x1="302" y1="163.4" x2="302" y2="236.1" stroke="#1a1a1a" stroke-width="1.3"/>
<line x1="301.4" y1="235.5" x2="514" y2="235.5" stroke="#1a1a1a" stroke-width="1.3"/>
<line x1="299" y1="235.5" x2="302" y2="235.5" stroke="#1a1a1a" stroke-width="1.1"/>
<text x="296" y="238.5" font-size="8.5" fill="#2a2a2a" stroke="#2a2a2a" stroke-width="0.15" text-anchor="end">0</text>
<line x1="299" y1="223.9" x2="302" y2="223.9" stroke="#1a1a1a" stroke-width="1.1"/>
<text x="296" y="226.9" font-size="8.5" fill="#2a2a2a" stroke="#2a2a2a" stroke-width="0.15" text-anchor="end">20</text>
<line x1="299" y1="212.3" x2="302" y2="212.3" stroke="#1a1a1a" stroke-width="1.1"/>
<text x="296" y="215.3" font-size="8.5" fill="#2a2a2a" stroke="#2a2a2a" stroke-width="0.15" text-anchor="end">40</text>
<line x1="299" y1="200.7" x2="302" y2="200.7" stroke="#1a1a1a" stroke-width="1.1"/>
<text x="296" y="203.7" font-size="8.5" fill="#2a2a2a" stroke="#2a2a2a" stroke-width="0.15" text-anchor="end">60</text>
<line x1="299" y1="189.1" x2="302" y2="189.1" stroke="#1a1a1a" stroke-width="1.1"/>
<text x="296" y="192.1" font-size="8.5" fill="#2a2a2a" stroke="#2a2a2a" stroke-width="0.15" text-anchor="end">80</text>
<line x1="299" y1="177.5" x2="302" y2="177.5" stroke="#1a1a1a" stroke-width="1.1"/>
<text x="296" y="180.5" font-size="8.5" fill="#2a2a2a" stroke="#2a2a2a" stroke-width="0.15" text-anchor="end">100</text>
<line x1="299" y1="165.9" x2="302" y2="165.9" stroke="#1a1a1a" stroke-width="1.1"/>
<text x="296" y="168.9" font-size="8.5" fill="#2a2a2a" stroke="#2a2a2a" stroke-width="0.15" text-anchor="end">120</text>
<rect x="305.2" y="230.86" width="4.3" height="4.64" fill="#c0062f"/>
<line x1="307.35" y1="231.36" x2="307.35" y2="230.28" stroke="#2a2a2a" stroke-width="1"/>
<line x1="305.5" y1="230.28" x2="309.2" y2="230.28" stroke="#2a2a2a" stroke-width="1.1"/>
<rect x="311.7" y="231.44" width="4.3" height="4.06" fill="#2c4f8a"/>
<line x1="313.85" y1="231.94" x2="313.85" y2="230.86" stroke="#2a2a2a" stroke-width="1"/>
<line x1="312" y1="230.86" x2="315.7" y2="230.86" stroke="#2a2a2a" stroke-width="1.1"/>
<rect x="318.3" y="229.7" width="4.3" height="5.8" fill="#5b2468"/>
<line x1="320.45" y1="230.2" x2="320.45" y2="227.38" stroke="#2a2a2a" stroke-width="1"/>
<line x1="318.6" y1="227.38" x2="322.3" y2="227.38" stroke="#2a2a2a" stroke-width="1.1"/>
<line x1="313.95" y1="235.5" x2="313.95" y2="238.3" stroke="#1a1a1a" stroke-width="1"/>
<rect x="328.56" y="231.44" width="4.3" height="4.06" fill="#c0062f"/>
<line x1="330.71" y1="231.94" x2="330.71" y2="230.86" stroke="#2a2a2a" stroke-width="1"/>
<line x1="328.86" y1="230.86" x2="332.56" y2="230.86" stroke="#2a2a2a" stroke-width="1.1"/>
<rect x="335.06" y="230.86" width="4.3" height="4.64" fill="#2c4f8a"/>
<line x1="337.21" y1="231.36" x2="337.21" y2="230.28" stroke="#2a2a2a" stroke-width="1"/>
<line x1="335.36" y1="230.28" x2="339.06" y2="230.28" stroke="#2a2a2a" stroke-width="1.1"/>
<rect x="341.66" y="229.7" width="4.3" height="5.8" fill="#5b2468"/>
<line x1="343.81" y1="230.2" x2="343.81" y2="229.12" stroke="#2a2a2a" stroke-width="1"/>
<line x1="341.96" y1="229.12" x2="345.66" y2="229.12" stroke="#2a2a2a" stroke-width="1.1"/>
<line x1="337.31" y1="235.5" x2="337.31" y2="238.3" stroke="#1a1a1a" stroke-width="1"/>
<rect x="351.92" y="231.44" width="4.3" height="4.06" fill="#c0062f"/>
<line x1="354.07" y1="231.94" x2="354.07" y2="230.86" stroke="#2a2a2a" stroke-width="1"/>
<line x1="352.22" y1="230.86" x2="355.92" y2="230.86" stroke="#2a2a2a" stroke-width="1.1"/>
<rect x="358.42" y="231.44" width="4.3" height="4.06" fill="#2c4f8a"/>
<line x1="360.57" y1="231.94" x2="360.57" y2="230.86" stroke="#2a2a2a" stroke-width="1"/>
<line x1="358.72" y1="230.86" x2="362.42" y2="230.86" stroke="#2a2a2a" stroke-width="1.1"/>
<rect x="365.02" y="231.44" width="4.3" height="4.06" fill="#5b2468"/>
<line x1="367.17" y1="231.94" x2="367.17" y2="230.28" stroke="#2a2a2a" stroke-width="1"/>
<line x1="365.32" y1="230.28" x2="369.02" y2="230.28" stroke="#2a2a2a" stroke-width="1.1"/>
<line x1="360.67" y1="235.5" x2="360.67" y2="238.3" stroke="#1a1a1a" stroke-width="1"/>
<rect x="375.28" y="203.6" width="4.3" height="31.9" fill="#c0062f"/>
<line x1="377.43" y1="204.1" x2="377.43" y2="201.86" stroke="#2a2a2a" stroke-width="1"/>
<line x1="375.58" y1="201.86" x2="379.28" y2="201.86" stroke="#2a2a2a" stroke-width="1.1"/>
<rect x="381.78" y="203.02" width="4.3" height="32.48" fill="#2c4f8a"/>
<line x1="383.93" y1="203.52" x2="383.93" y2="198.96" stroke="#2a2a2a" stroke-width="1"/>
<line x1="382.08" y1="198.96" x2="385.78" y2="198.96" stroke="#2a2a2a" stroke-width="1.1"/>
<rect x="388.38" y="198.96" width="4.3" height="36.54" fill="#5b2468"/>
<line x1="390.53" y1="199.46" x2="390.53" y2="194.32" stroke="#2a2a2a" stroke-width="1"/>
<line x1="388.68" y1="194.32" x2="392.38" y2="194.32" stroke="#2a2a2a" stroke-width="1.1"/>
<line x1="384.03" y1="235.5" x2="384.03" y2="238.3" stroke="#1a1a1a" stroke-width="1"/>
<rect x="398.64" y="213.46" width="4.3" height="22.04" fill="#c0062f"/>
<line x1="400.79" y1="213.96" x2="400.79" y2="212.88" stroke="#2a2a2a" stroke-width="1"/>
<line x1="398.94" y1="212.88" x2="402.64" y2="212.88" stroke="#2a2a2a" stroke-width="1.1"/>
<rect x="405.14" y="212.01" width="4.3" height="23.49" fill="#2c4f8a"/>
<line x1="407.29" y1="212.51" x2="407.29" y2="208.53" stroke="#2a2a2a" stroke-width="1"/>
<line x1="405.44" y1="208.53" x2="409.14" y2="208.53" stroke="#2a2a2a" stroke-width="1.1"/>
<rect x="411.74" y="208.24" width="4.3" height="27.26" fill="#5b2468"/>
<line x1="413.89" y1="208.74" x2="413.89" y2="204.76" stroke="#2a2a2a" stroke-width="1"/>
<line x1="412.04" y1="204.76" x2="415.74" y2="204.76" stroke="#2a2a2a" stroke-width="1.1"/>
<line x1="407.39" y1="235.5" x2="407.39" y2="238.3" stroke="#1a1a1a" stroke-width="1"/>
<rect x="422" y="224.48" width="4.3" height="11.02" fill="#c0062f"/>
<line x1="424.15" y1="224.98" x2="424.15" y2="223.9" stroke="#2a2a2a" stroke-width="1"/>
<line x1="422.3" y1="223.9" x2="426" y2="223.9" stroke="#2a2a2a" stroke-width="1.1"/>
<rect x="428.5" y="222.74" width="4.3" height="12.76" fill="#2c4f8a"/>
<line x1="430.65" y1="223.24" x2="430.65" y2="221.58" stroke="#2a2a2a" stroke-width="1"/>
<line x1="428.8" y1="221.58" x2="432.5" y2="221.58" stroke="#2a2a2a" stroke-width="1.1"/>
<rect x="435.1" y="222.16" width="4.3" height="13.34" fill="#5b2468"/>
<line x1="437.25" y1="222.66" x2="437.25" y2="221" stroke="#2a2a2a" stroke-width="1"/>
<line x1="435.4" y1="221" x2="439.1" y2="221" stroke="#2a2a2a" stroke-width="1.1"/>
<line x1="430.75" y1="235.5" x2="430.75" y2="238.3" stroke="#1a1a1a" stroke-width="1"/>
<rect x="445.36" y="176.63" width="4.3" height="58.87" fill="#c0062f"/>
<line x1="447.51" y1="177.13" x2="447.51" y2="174.6" stroke="#2a2a2a" stroke-width="1"/>
<line x1="445.66" y1="174.6" x2="449.36" y2="174.6" stroke="#2a2a2a" stroke-width="1.1"/>
<rect x="451.86" y="178.72" width="4.3" height="56.78" fill="#2c4f8a"/>
<line x1="454.01" y1="179.22" x2="454.01" y2="172.05" stroke="#2a2a2a" stroke-width="1"/>
<line x1="452.16" y1="172.05" x2="455.86" y2="172.05" stroke="#2a2a2a" stroke-width="1.1"/>
<rect x="458.46" y="180.11" width="4.3" height="55.39" fill="#5b2468"/>
<line x1="460.61" y1="180.61" x2="460.61" y2="171.99" stroke="#2a2a2a" stroke-width="1"/>
<line x1="458.76" y1="171.99" x2="462.46" y2="171.99" stroke="#2a2a2a" stroke-width="1.1"/>
<line x1="454.11" y1="235.5" x2="454.11" y2="238.3" stroke="#1a1a1a" stroke-width="1"/>
<rect x="468.72" y="184" width="4.3" height="51.5" fill="#c0062f"/>
<line x1="470.87" y1="184.5" x2="470.87" y2="180.86" stroke="#2a2a2a" stroke-width="1"/>
<line x1="469.02" y1="180.86" x2="472.72" y2="180.86" stroke="#2a2a2a" stroke-width="1.1"/>
<rect x="475.22" y="184.17" width="4.3" height="51.33" fill="#2c4f8a"/>
<line x1="477.37" y1="184.67" x2="477.37" y2="177.21" stroke="#2a2a2a" stroke-width="1"/>
<line x1="475.52" y1="177.21" x2="479.22" y2="177.21" stroke="#2a2a2a" stroke-width="1.1"/>
<rect x="481.82" y="184.75" width="4.3" height="50.75" fill="#5b2468"/>
<line x1="483.97" y1="185.25" x2="483.97" y2="179.7" stroke="#2a2a2a" stroke-width="1"/>
<line x1="482.12" y1="179.7" x2="485.82" y2="179.7" stroke="#2a2a2a" stroke-width="1.1"/>
<line x1="477.47" y1="235.5" x2="477.47" y2="238.3" stroke="#1a1a1a" stroke-width="1"/>
<rect x="492.08" y="203.25" width="4.3" height="32.25" fill="#c0062f"/>
<line x1="494.23" y1="203.75" x2="494.23" y2="196.87" stroke="#2a2a2a" stroke-width="1"/>
<line x1="492.38" y1="196.87" x2="496.08" y2="196.87" stroke="#2a2a2a" stroke-width="1.1"/>
<rect x="498.58" y="204.41" width="4.3" height="31.09" fill="#2c4f8a"/>
<line x1="500.73" y1="204.91" x2="500.73" y2="202.5" stroke="#2a2a2a" stroke-width="1"/>
<line x1="498.88" y1="202.5" x2="502.58" y2="202.5" stroke="#2a2a2a" stroke-width="1.1"/>
<rect x="505.18" y="204.41" width="4.3" height="31.09" fill="#5b2468"/>
<line x1="507.33" y1="204.91" x2="507.33" y2="203.48" stroke="#2a2a2a" stroke-width="1"/>
<line x1="505.48" y1="203.48" x2="509.18" y2="203.48" stroke="#2a2a2a" stroke-width="1.1"/>
<line x1="500.83" y1="235.5" x2="500.83" y2="238.3" stroke="#1a1a1a" stroke-width="1"/>
<line x1="349" y1="196" x2="349" y2="235.5" stroke="#222" stroke-width="1.5" stroke-dasharray="2.6,1.5"/>
<text x="313.95" y="248.3" font-size="8.8" fill="#2a2a2a" stroke="#2a2a2a" stroke-width="0.15" text-anchor="middle">-</text>
<text x="337.31" y="248.3" font-size="8.8" fill="#2a2a2a" stroke="#2a2a2a" stroke-width="0.15" text-anchor="middle">12.5</text>
<text x="360.67" y="248.3" font-size="8.8" fill="#2a2a2a" stroke="#2a2a2a" stroke-width="0.15" text-anchor="middle">-</text>
<text x="384.03" y="248.3" font-size="8.8" fill="#2a2a2a" stroke="#2a2a2a" stroke-width="0.15" text-anchor="middle">50</text>
<text x="407.39" y="248.3" font-size="8.8" fill="#2a2a2a" stroke="#2a2a2a" stroke-width="0.15" text-anchor="middle">25</text>
<text x="430.75" y="248.3" font-size="8.8" fill="#2a2a2a" stroke="#2a2a2a" stroke-width="0.15" text-anchor="middle">12.5</text>
<text x="454.11" y="248.3" font-size="8.8" fill="#2a2a2a" stroke="#2a2a2a" stroke-width="0.15" text-anchor="middle">0.25</text>
<text x="477.47" y="248.3" font-size="8.8" fill="#2a2a2a" stroke="#2a2a2a" stroke-width="0.15" text-anchor="middle">0.125</text>
<text x="500.83" y="248.3" font-size="8.8" fill="#2a2a2a" stroke="#2a2a2a" stroke-width="0.15" text-anchor="middle">0.06</text>
<line x1="328.31" y1="251.5" x2="346.01" y2="251.5" stroke="#1a1a1a" stroke-width="1.3"/>
<line x1="372.83" y1="251.5" x2="440.25" y2="251.5" stroke="#1a1a1a" stroke-width="1.3"/>
<line x1="443.51" y1="251.5" x2="511.23" y2="251.5" stroke="#1a1a1a" stroke-width="1.3"/>
<text x="337.61" y="260.5" font-size="8.3" fill="#2a2a2a" stroke="#2a2a2a" stroke-width="0.15" text-anchor="middle">ADP</text>
<text x="337.61" y="270.3" font-size="8.3" fill="#2a2a2a" stroke="#2a2a2a" stroke-width="0.15" text-anchor="middle">µM</text>
<text x="407.99" y="260.5" font-size="8.3" fill="#2a2a2a" stroke="#2a2a2a" stroke-width="0.15" text-anchor="middle">Convulxin</text>
<text x="407.99" y="270.3" font-size="8.3" fill="#2a2a2a" stroke="#2a2a2a" stroke-width="0.15" text-anchor="middle">ng/ml</text>
<text x="478.27" y="260.5" font-size="8.3" fill="#2a2a2a" stroke="#2a2a2a" stroke-width="0.15" text-anchor="middle" textLength="30.8" lengthAdjust="spacingAndGlyphs">PAR4-AP</text>
<text x="478.27" y="270.3" font-size="8.3" fill="#2a2a2a" stroke="#2a2a2a" stroke-width="0.15" text-anchor="middle">mM</text>
<text transform="translate(277,199.3) rotate(-90)" font-size="9" fill="#2a2a2a" stroke="#2a2a2a" stroke-width="0.15" text-anchor="middle" textLength="63" lengthAdjust="spacingAndGlyphs">P-selectin <tspan font-size="6.5" dy="-3.3">+ve</tspan><tspan dy="3.3"> (MFI)</tspan></text>
<rect x="305.4" y="164.5" width="7.6" height="6.6" fill="#c0062f"/>
<rect x="305.4" y="175" width="7.6" height="6.6" fill="#2c4f8a"/>
<rect x="305.4" y="185.2" width="7.6" height="6.6" fill="#5b2468"/>
<text x="316.2" y="170.5" font-size="7.5" fill="#333" stroke="#333" stroke-width="0.15" font-style="italic" textLength="11.3" lengthAdjust="spacingAndGlyphs">Bak</text>
<text x="327.8" y="167.3" font-size="5.4" fill="#333" stroke="#333" stroke-width="0.15" textLength="9.6" lengthAdjust="spacingAndGlyphs">+/+</text>
<text x="339.2" y="170.5" font-size="7.5" fill="#333" stroke="#333" stroke-width="0.15" font-style="italic" textLength="11.4" lengthAdjust="spacingAndGlyphs">Bax</text>
<text x="351" y="167.3" font-size="5.4" fill="#333" stroke="#333" stroke-width="0.15" textLength="8.2" lengthAdjust="spacingAndGlyphs">+/+</text>
<text x="316.3" y="181.3" font-size="7.5" fill="#333" stroke="#333" stroke-width="0.15" font-style="italic" textLength="10.8" lengthAdjust="spacingAndGlyphs">Bak</text>
<text x="327.6" y="178.1" font-size="5.4" fill="#333" stroke="#333" stroke-width="0.15" textLength="5.4" lengthAdjust="spacingAndGlyphs">-/-</text>
<text x="335.3" y="181.3" font-size="7.5" fill="#333" stroke="#333" stroke-width="0.15" font-style="italic" textLength="11.4" lengthAdjust="spacingAndGlyphs">Bax</text>
<text x="349.2" y="178.1" font-size="5.4" fill="#333" stroke="#333" stroke-width="0.15" font-style="italic" textLength="7.5" lengthAdjust="spacingAndGlyphs">fl/fl</text>
<text x="316.6" y="191" font-size="7.5" fill="#333" stroke="#333" stroke-width="0.15" font-style="italic" textLength="10.8" lengthAdjust="spacingAndGlyphs">Bak</text>
<text x="327.8" y="187.8" font-size="5.4" fill="#333" stroke="#333" stroke-width="0.15" textLength="5.6" lengthAdjust="spacingAndGlyphs">-/-</text>
<text x="335.9" y="191" font-size="7.5" fill="#333" stroke="#333" stroke-width="0.15" font-style="italic" textLength="11.3" lengthAdjust="spacingAndGlyphs">Bax</text>
<text x="348" y="187.8" font-size="5.4" fill="#333" stroke="#333" stroke-width="0.15" font-style="italic" textLength="23.7" lengthAdjust="spacingAndGlyphs">PF4Δ/PF4Δ</text>
<text x="5.1" y="296" font-size="11.5" fill="#000" font-weight="bold" textLength="7.4" lengthAdjust="spacingAndGlyphs">E</text>
<line x1="57.07" y1="304.11" x2="57.07" y2="390.61" stroke="#b4b4b4" stroke-width="0.85"/>
<line x1="66.73" y1="304.11" x2="66.73" y2="390.61" stroke="#b4b4b4" stroke-width="0.85"/>
<line x1="76.4" y1="304.11" x2="76.4" y2="390.61" stroke="#b4b4b4" stroke-width="0.85"/>
<line x1="86.06" y1="304.11" x2="86.06" y2="390.61" stroke="#b4b4b4" stroke-width="0.85"/>
<line x1="95.73" y1="304.11" x2="95.73" y2="390.61" stroke="#b4b4b4" stroke-width="0.85"/>
<line x1="105.4" y1="304.11" x2="105.4" y2="390.61" stroke="#b4b4b4" stroke-width="0.85"/>
<line x1="115.06" y1="304.11" x2="115.06" y2="390.61" stroke="#b4b4b4" stroke-width="0.85"/>
<line x1="124.73" y1="304.11" x2="124.73" y2="390.61" stroke="#b4b4b4" stroke-width="0.85"/>
<line x1="134.39" y1="304.11" x2="134.39" y2="390.61" stroke="#b4b4b4" stroke-width="0.85"/>
<line x1="144.06" y1="304.11" x2="144.06" y2="390.61" stroke="#b4b4b4" stroke-width="0.85"/>
<line x1="153.73" y1="304.11" x2="153.73" y2="390.61" stroke="#b4b4b4" stroke-width="0.85"/>
<line x1="163.39" y1="304.11" x2="163.39" y2="390.61" stroke="#b4b4b4" stroke-width="0.85"/>
<line x1="173.06" y1="304.11" x2="173.06" y2="390.61" stroke="#b4b4b4" stroke-width="0.85"/>
<line x1="182.72" y1="304.11" x2="182.72" y2="390.61" stroke="#b4b4b4" stroke-width="0.85"/>
<line x1="192.39" y1="304.11" x2="192.39" y2="390.61" stroke="#b4b4b4" stroke-width="0.85"/>
<line x1="202.06" y1="304.11" x2="202.06" y2="390.61" stroke="#b4b4b4" stroke-width="0.85"/>
<line x1="211.72" y1="304.11" x2="211.72" y2="390.61" stroke="#b4b4b4" stroke-width="0.85"/>
<line x1="221.39" y1="304.11" x2="221.39" y2="390.61" stroke="#b4b4b4" stroke-width="0.85"/>
<line x1="231.05" y1="304.11" x2="231.05" y2="390.61" stroke="#b4b4b4" stroke-width="0.85"/>
<line x1="240.72" y1="304.11" x2="240.72" y2="390.61" stroke="#b4b4b4" stroke-width="0.85"/>
<line x1="250.39" y1="304.11" x2="250.39" y2="390.61" stroke="#b4b4b4" stroke-width="0.85"/>
<line x1="260.05" y1="304.11" x2="260.05" y2="390.61" stroke="#b4b4b4" stroke-width="0.85"/>
<line x1="269.72" y1="304.11" x2="269.72" y2="390.61" stroke="#b4b4b4" stroke-width="0.85"/>
<line x1="279.38" y1="304.11" x2="279.38" y2="390.61" stroke="#b4b4b4" stroke-width="0.85"/>
<line x1="47.4" y1="383.95" x2="280" y2="383.95" stroke="#6a6a6a" stroke-width="1"/>
<line x1="47.4" y1="377.3" x2="280" y2="377.3" stroke="#6a6a6a" stroke-width="1"/>
<line x1="47.4" y1="370.65" x2="280" y2="370.65" stroke="#6a6a6a" stroke-width="1"/>
<line x1="47.4" y1="363.99" x2="280" y2="363.99" stroke="#6a6a6a" stroke-width="1"/>
<line x1="47.4" y1="357.34" x2="280" y2="357.34" stroke="#6a6a6a" stroke-width="1"/>
<line x1="47.4" y1="350.68" x2="280" y2="350.68" stroke="#6a6a6a" stroke-width="1"/>
<line x1="47.4" y1="344.03" x2="280" y2="344.03" stroke="#6a6a6a" stroke-width="1"/>
<line x1="47.4" y1="337.38" x2="280" y2="337.38" stroke="#6a6a6a" stroke-width="1"/>
<line x1="47.4" y1="330.72" x2="280" y2="330.72" stroke="#6a6a6a" stroke-width="1"/>
<line x1="47.4" y1="324.07" x2="280" y2="324.07" stroke="#6a6a6a" stroke-width="1"/>
<line x1="47.4" y1="317.41" x2="280" y2="317.41" stroke="#6a6a6a" stroke-width="1"/>
<line x1="47.4" y1="310.76" x2="280" y2="310.76" stroke="#6a6a6a" stroke-width="1"/>
<line x1="47.4" y1="304.11" x2="280" y2="304.11" stroke="#6a6a6a" stroke-width="1"/>
<line x1="280" y1="304.11" x2="280" y2="390.61" stroke="#c8c8c8" stroke-width="0.8"/>
<rect x="47.9" y="309" width="22.5" height="18" fill="white"/>
<rect x="47.9" y="339.2" width="36.3" height="16.3" fill="white"/>
<text x="50.1" y="319.5" font-size="8.4" fill="#222" stroke="#222" stroke-width="0.15" textLength="14.4" lengthAdjust="spacingAndGlyphs">APS</text>
<text x="50.6" y="344.6" font-size="8.4" fill="#222" stroke="#222" stroke-width="0.15" textLength="32" lengthAdjust="spacingAndGlyphs">PAR4-AP</text>
<text x="53.6" y="354.4" font-size="8.4" fill="#222" stroke="#222" stroke-width="0.15" textLength="26.7" lengthAdjust="spacingAndGlyphs">(50 µM)</text>
<rect x="198" y="350.3" width="81.5" height="39.8" fill="white"/>
<polyline points="47.4,377.3 47.88,377.3 48.37,377.3 48.85,377.3 49.33,377.3 49.82,377.3 50.3,377.3 50.78,377.3 51.27,377.3 51.75,377.3 52.23,377.3 52.72,377.3 53.2,377.3 53.68,377.3 54.17,377.3 54.65,377.3 55.13,377.3 55.62,377.3 56.1,377.3 56.58,377.3 57.07,377.3 57.55,377.3 58.03,377.3 58.52,377.3 59,377.3 59.48,377.3 59.97,377.3 60.45,377.3 60.93,377.3 61.42,377.3 61.9,376.63 62.38,376.63 62.87,376.63 63.35,376.63 63.83,377.3 64.32,378.27 64.8,379.25 65.28,380.22 65.77,381.19 66.25,382.16 66.73,383.14 67.22,384.11 67.7,385.08 68.18,386.05 68.67,387.03 69.15,388 69.63,388.97 70.12,389.94 70.6,389.48 71.08,388.9 71.56,388.23 72.05,387.49 72.53,386.67 73.01,385.79 73.5,384.84 73.98,383.85 74.46,382.82 74.95,381.74 75.43,380.63 75.91,379.49 76.4,378.33 76.88,377.16 77.36,375.97 77.85,374.78 78.33,373.59 78.81,372.4 79.3,371.21 79.78,370.04 80.26,368.88 80.75,367.74 81.23,366.62 81.71,365.52 82.2,364.45 82.68,363.4 83.16,362.38 83.65,361.39 84.13,360.44 84.61,359.51 85.1,358.62 85.58,357.76 86.06,356.93 86.55,356.14 87.03,355.37 87.51,354.64 88,353.94 88.48,353.28 88.96,352.64 89.45,352.03 89.93,351.44 90.41,350.89 90.9,350.36 91.38,349.85 91.86,349.37 92.35,348.91 92.83,348.48 93.31,348.06 93.8,347.66 94.28,347.28 94.76,346.92 95.25,346.57 95.73,346.24 96.21,345.92 96.7,345.62 97.18,345.32 97.66,345.04 98.15,344.77 98.63,344.51 99.11,344.25 99.6,344.01 100.08,343.77 100.56,343.55 101.05,343.32 101.53,343.11 102.01,342.9 102.5,342.69 102.98,342.49 103.46,342.3 103.95,342.11 104.43,341.92 104.91,341.74 105.4,341.56 105.88,341.39 106.36,341.22 106.85,341.05 107.33,340.88 107.81,340.72 108.3,340.56 108.78,340.4 109.26,340.25 109.75,340.09 110.23,339.94 110.71,339.79 111.2,339.65 111.68,339.5 112.16,339.36 112.65,339.22 113.13,339.08 113.61,338.94 114.1,338.8 114.58,338.67 115.06,338.54 115.55,338.41 116.03,338.28 116.51,338.15 117,338.02 117.48,337.9 117.96,337.78 118.45,337.66 118.93,337.53 119.41,337.42 119.9,337.3 121.34,336.96 122.79,336.62 124.24,336.3 125.69,335.99 127.14,335.7 128.59,335.41 130.04,335.13 131.49,334.86 132.94,334.6 134.39,334.35 135.84,334.11 137.29,333.88 138.74,333.65 140.19,333.44 141.64,333.23 143.09,333.03 144.54,332.83 145.99,332.64 147.44,332.46 148.89,332.28 150.34,332.11 151.79,331.95 153.24,331.79 154.69,331.64 156.14,331.49 157.59,331.35 159.04,331.21 160.49,331.08 161.94,330.95 163.39,330.83 164.84,330.71 166.29,330.6 167.74,330.49 169.19,330.38 170.64,330.27 172.09,330.17 173.54,330.08 174.99,329.99 176.44,329.9 177.89,329.81 179.34,329.72 180.79,329.64 182.24,329.57 183.69,329.49 185.14,329.42 186.59,329.35 188.04,329.28 189.49,329.21 190.94,329.15 192.39,329.09 193.84,329.03 195.29,328.98 196.74,328.92 198.19,328.87 199.64,328.82 201.09,328.77 202.54,328.72 203.99,328.67 205.44,328.63 206.89,328.59 208.34,328.55 209.79,328.51 211.24,328.47 212.69,328.43 214.14,328.39 215.59,328.36 217.04,328.33 218.49,328.29 219.94,328.26 221.39,328.23 222.84,328.2 224.29,328.18 225.74,328.15 227.19,328.12 228.64,328.1 230.09,328.07 231.54,328.05 232.99,328.03 234.44,328 235.89,327.98 237.34,327.96 238.79,327.94 240.24,327.92 241.69,327.91 243.14,327.89 244.59,327.87 246.04,327.85 247.49,327.84 248.94,327.82 250.39,327.81 251.84,327.79 253.29,327.78 254.74,327.77 256.19,327.75 257.64,327.74 259.09,327.73 260.54,327.72 261.99,327.71 263.44,327.7 264.88,327.69 266.33,327.68 267.78,327.67 269.23,327.66 270.68,327.65 272.13,327.64 273.58,327.63 275.03,327.62 276.48,327.61 277.93,327.61 279.38,327.6" fill="none" stroke="#3a1f14" stroke-width="0.85" stroke-linejoin="round"/>
<polyline points="47.4,377.3 47.88,377.3 48.37,377.3 48.85,377.3 49.33,377.3 49.82,377.3 50.3,377.3 50.78,377.3 51.27,377.3 51.75,377.3 52.23,377.3 52.72,377.3 53.2,377.3 53.68,377.3 54.17,377.3 54.65,377.3 55.13,377.3 55.62,377.3 56.1,377.3 56.58,377.3 57.07,377.3 57.55,377.3 58.03,377.3 58.52,377.3 59,377.3 59.48,377.3 59.97,377.3 60.45,377.3 60.93,377.3 61.42,377.3 61.9,377.3 62.38,376.63 62.87,376.63 63.35,376.63 63.83,376.63 64.32,377.3 64.8,378.2 65.28,379.11 65.77,380.01 66.25,380.91 66.73,381.82 67.22,382.72 67.7,383.62 68.18,384.52 68.67,385.43 69.15,386.33 69.63,387.23 70.12,388.14 70.6,389.04 71.08,389.94 71.56,389.46 72.05,388.88 72.53,388.23 73.01,387.52 73.5,386.74 73.98,385.91 74.46,385.02 74.95,384.1 75.43,383.13 75.91,382.13 76.4,381.1 76.88,380.04 77.36,378.96 77.85,377.87 78.33,376.76 78.81,375.64 79.3,374.52 79.78,373.4 80.26,372.28 80.75,371.16 81.23,370.05 81.71,368.96 82.2,367.87 82.68,366.8 83.16,365.76 83.65,364.73 84.13,363.72 84.61,362.73 85.1,361.77 85.58,360.84 86.06,359.93 86.55,359.05 87.03,358.19 87.51,357.36 88,356.56 88.48,355.79 88.96,355.05 89.45,354.33 89.93,353.64 90.41,352.97 90.9,352.33 91.38,351.72 91.86,351.12 92.35,350.56 92.83,350.01 93.31,349.49 93.8,348.99 94.28,348.51 94.76,348.05 95.25,347.6 95.73,347.18 96.21,346.77 96.7,346.37 97.18,345.99 97.66,345.63 98.15,345.28 98.63,344.94 99.11,344.61 99.6,344.3 100.08,343.99 100.56,343.7 101.05,343.41 101.53,343.13 102.01,342.86 102.5,342.6 102.98,342.35 103.46,342.1 103.95,341.86 104.43,341.62 104.91,341.39 105.4,341.17 105.88,340.95 106.36,340.73 106.85,340.52 107.33,340.31 107.81,340.11 108.3,339.91 108.78,339.71 109.26,339.52 109.75,339.33 110.23,339.14 110.71,338.96 111.2,338.77 111.68,338.59 112.16,338.42 112.65,338.24 113.13,338.07 113.61,337.9 114.1,337.73 114.58,337.57 115.06,337.4 115.55,337.24 116.03,337.08 116.51,336.92 117,336.76 117.48,336.61 117.96,336.46 118.45,336.31 118.93,336.16 119.41,336.01 119.9,335.86 121.34,335.43 122.79,335.02 124.24,334.61 125.69,334.22 127.14,333.85 128.59,333.48 130.04,333.13 131.49,332.78 132.94,332.45 134.39,332.13 135.84,331.81 137.29,331.51 138.74,331.22 140.19,330.93 141.64,330.66 143.09,330.39 144.54,330.13 145.99,329.88 147.44,329.64 148.89,329.4 150.34,329.18 151.79,328.95 153.24,328.74 154.69,328.53 156.14,328.33 157.59,328.14 159.04,327.95 160.49,327.77 161.94,327.59 163.39,327.42 164.84,327.25 166.29,327.09 167.74,326.94 169.19,326.78 170.64,326.64 172.09,326.5 173.54,326.36 174.99,326.22 176.44,326.1 177.89,325.97 179.34,325.85 180.79,325.73 182.24,325.62 183.69,325.51 185.14,325.4 186.59,325.3 188.04,325.2 189.49,325.1 190.94,325.01 192.39,324.91 193.84,324.83 195.29,324.74 196.74,324.66 198.19,324.58 199.64,324.5 201.09,324.42 202.54,324.35 203.99,324.28 205.44,324.21 206.89,324.14 208.34,324.08 209.79,324.02 211.24,323.96 212.69,323.9 214.14,323.84 215.59,323.79 217.04,323.73 218.49,323.68 219.94,323.63 221.39,323.58 222.84,323.54 224.29,323.49 225.74,323.45 227.19,323.4 228.64,323.36 230.09,323.32 231.54,323.28 232.99,323.25 234.44,323.21 235.89,323.17 237.34,323.14 238.79,323.11 240.24,323.07 241.69,323.04 243.14,323.01 244.59,322.98 246.04,322.96 247.49,322.93 248.94,322.9 250.39,322.88 251.84,322.85 253.29,322.83 254.74,322.8 256.19,322.78 257.64,322.76 259.09,322.74 260.54,322.72 261.99,322.7 263.44,322.68 264.88,322.66 266.33,322.64 267.78,322.62 269.23,322.61 270.68,322.59 272.13,322.57 273.58,322.56 275.03,322.54 276.48,322.53 277.93,322.51 279.38,322.5" fill="none" stroke="#2f7a55" stroke-width="0.85" stroke-linejoin="round"/>
<polyline points="47.4,377.3 47.88,377.3 48.37,377.3 48.85,377.3 49.33,377.3 49.82,377.3 50.3,377.3 50.78,377.3 51.27,377.3 51.75,377.3 52.23,377.3 52.72,377.3 53.2,377.3 53.68,377.3 54.17,377.3 54.65,377.3 55.13,377.3 55.62,377.3 56.1,377.3 56.58,377.3 57.07,377.3 57.55,377.3 58.03,377.3 58.52,377.3 59,377.3 59.48,377.3 59.97,377.3 60.45,377.3 60.93,377.3 61.42,377.3 61.9,376.63 62.38,376.63 62.87,376.63 63.35,376.63 63.83,377.3 64.32,378.2 64.8,379.11 65.28,380.01 65.77,380.91 66.25,381.82 66.73,382.72 67.22,383.62 67.7,384.52 68.18,385.43 68.67,386.33 69.15,387.23 69.63,388.14 70.12,389.04 70.6,389.94 71.08,389.43 71.56,388.81 72.05,388.12 72.53,387.36 73.01,386.54 73.5,385.65 73.98,384.72 74.46,383.74 74.95,382.72 75.43,381.67 75.91,380.58 76.4,379.47 76.88,378.34 77.36,377.2 77.85,376.04 78.33,374.88 78.81,373.71 79.3,372.55 79.78,371.39 80.26,370.24 80.75,369.1 81.23,367.98 81.71,366.87 82.2,365.78 82.68,364.72 83.16,363.67 83.65,362.66 84.13,361.67 84.61,360.7 85.1,359.77 85.58,358.86 86.06,357.98 86.55,357.14 87.03,356.32 87.51,355.53 88,354.78 88.48,354.05 88.96,353.35 89.45,352.68 89.93,352.04 90.41,351.42 90.9,350.83 91.38,350.26 91.86,349.72 92.35,349.21 92.83,348.71 93.31,348.24 93.8,347.78 94.28,347.35 94.76,346.93 95.25,346.53 95.73,346.15 96.21,345.78 96.7,345.43 97.18,345.09 97.66,344.77 98.15,344.45 98.63,344.15 99.11,343.86 99.6,343.58 100.08,343.31 100.56,343.04 101.05,342.79 101.53,342.54 102.01,342.3 102.5,342.07 102.98,341.84 103.46,341.62 103.95,341.41 104.43,341.2 104.91,340.99 105.4,340.79 105.88,340.59 106.36,340.4 106.85,340.21 107.33,340.03 107.81,339.85 108.3,339.67 108.78,339.49 109.26,339.32 109.75,339.15 110.23,338.98 110.71,338.82 111.2,338.66 111.68,338.5 112.16,338.34 112.65,338.19 113.13,338.04 113.61,337.89 114.1,337.74 114.58,337.59 115.06,337.45 115.55,337.3 116.03,337.16 116.51,337.03 117,336.89 117.48,336.75 117.96,336.62 118.45,336.49 118.93,336.36 119.41,336.23 119.9,336.11 121.34,335.74 122.79,335.38 124.24,335.04 125.69,334.71 127.14,334.39 128.59,334.08 130.04,333.79 131.49,333.5 132.94,333.23 134.39,332.96 135.84,332.71 137.29,332.47 138.74,332.23 140.19,332 141.64,331.79 143.09,331.57 144.54,331.37 145.99,331.18 147.44,330.99 148.89,330.81 150.34,330.63 151.79,330.46 153.24,330.3 154.69,330.15 156.14,330 157.59,329.85 159.04,329.71 160.49,329.58 161.94,329.45 163.39,329.32 164.84,329.2 166.29,329.09 167.74,328.98 169.19,328.87 170.64,328.77 172.09,328.67 173.54,328.57 174.99,328.48 176.44,328.39 177.89,328.3 179.34,328.22 180.79,328.14 182.24,328.07 183.69,327.99 185.14,327.92 186.59,327.85 188.04,327.79 189.49,327.72 190.94,327.66 192.39,327.6 193.84,327.55 195.29,327.49 196.74,327.44 198.19,327.39 199.64,327.34 201.09,327.29 202.54,327.25 203.99,327.2 205.44,327.16 206.89,327.12 208.34,327.08 209.79,327.05 211.24,327.01 212.69,326.98 214.14,326.94 215.59,326.91 217.04,326.88 218.49,326.85 219.94,326.82 221.39,326.79 222.84,326.76 224.29,326.74 225.74,326.71 227.19,326.69 228.64,326.67 230.09,326.64 231.54,326.62 232.99,326.6 234.44,326.58 235.89,326.56 237.34,326.55 238.79,326.53 240.24,326.51 241.69,326.49 243.14,326.48 244.59,326.46 246.04,326.45 247.49,326.43 248.94,326.42 250.39,326.41 251.84,326.4 253.29,326.38 254.74,326.37 256.19,326.36 257.64,326.35 259.09,326.34 260.54,326.33 261.99,326.32 263.44,326.31 264.88,326.3 266.33,326.29 267.78,326.28 269.23,326.28 270.68,326.27 272.13,326.26 273.58,326.25 275.03,326.25 276.48,326.24 277.93,326.23 279.38,326.23" fill="none" stroke="#c8384f" stroke-width="0.85" stroke-linejoin="round"/>
<polyline points="47.4,377.3 47.88,377.3 48.37,377.3 48.85,377.3 49.33,377.3 49.82,377.3 50.3,377.3 50.78,377.3 51.27,377.3 51.75,377.3 52.23,377.3 52.72,377.3 53.2,377.3 53.68,377.3 54.17,377.3 54.65,377.3 55.13,377.3 55.62,377.3 56.1,377.3 56.58,377.3 57.07,377.3 57.55,377.3 58.03,377.3 58.52,377.3 59,377.3 59.48,377.3 59.97,377.3 60.45,377.3 60.93,377.3 61.42,377.3 61.9,377.3 62.38,377.3 62.87,376.63 63.35,376.63 63.83,376.63 64.32,376.63 64.8,377.3 65.28,378 65.77,378.7 66.25,379.41 66.73,380.11 67.22,380.81 67.7,381.51 68.18,382.22 68.67,382.92 69.15,383.62 69.63,384.32 70.12,385.03 70.6,385.73 71.08,386.43 71.56,387.13 72.05,387.84 72.53,388.54 73.01,389.24 73.5,389.94 73.98,389.45 74.46,388.9 74.95,388.29 75.43,387.63 75.91,386.94 76.4,386.2 76.88,385.42 77.36,384.62 77.85,383.78 78.33,382.92 78.81,382.04 79.3,381.13 79.78,380.21 80.26,379.28 80.75,378.33 81.23,377.37 81.71,376.41 82.2,375.44 82.68,374.47 83.16,373.5 83.65,372.54 84.13,371.58 84.61,370.62 85.1,369.68 85.58,368.74 86.06,367.82 86.55,366.91 87.03,366.01 87.51,365.13 88,364.27 88.48,363.42 88.96,362.59 89.45,361.78 89.93,360.99 90.41,360.22 90.9,359.47 91.38,358.74 91.86,358.03 92.35,357.34 92.83,356.67 93.31,356.02 93.8,355.39 94.28,354.77 94.76,354.18 95.25,353.61 95.73,353.06 96.21,352.52 96.7,352 97.18,351.5 97.66,351.01 98.15,350.55 98.63,350.09 99.11,349.65 99.6,349.23 100.08,348.82 100.56,348.42 101.05,348.04 101.53,347.66 102.01,347.3 102.5,346.95 102.98,346.61 103.46,346.28 103.95,345.96 104.43,345.65 104.91,345.35 105.4,345.05 105.88,344.77 106.36,344.49 106.85,344.21 107.33,343.95 107.81,343.68 108.3,343.43 108.78,343.18 109.26,342.94 109.75,342.7 110.23,342.46 110.71,342.23 111.2,342.01 111.68,341.79 112.16,341.57 112.65,341.36 113.13,341.15 113.61,340.94 114.1,340.73 114.58,340.53 115.06,340.34 115.55,340.14 116.03,339.95 116.51,339.76 117,339.57 117.48,339.39 117.96,339.2 118.45,339.02 118.93,338.84 119.41,338.67 119.9,338.49 121.34,337.98 122.79,337.49 124.24,337.01 125.69,336.55 127.14,336.1 128.59,335.67 130.04,335.24 131.49,334.83 132.94,334.44 134.39,334.05 135.84,333.68 137.29,333.32 138.74,332.96 140.19,332.62 141.64,332.29 143.09,331.97 144.54,331.66 145.99,331.35 147.44,331.06 148.89,330.77 150.34,330.5 151.79,330.23 153.24,329.97 154.69,329.72 156.14,329.47 157.59,329.23 159.04,329 160.49,328.78 161.94,328.56 163.39,328.35 164.84,328.14 166.29,327.94 167.74,327.75 169.19,327.56 170.64,327.38 172.09,327.2 173.54,327.03 174.99,326.87 176.44,326.7 177.89,326.55 179.34,326.4 180.79,326.25 182.24,326.11 183.69,325.97 185.14,325.83 186.59,325.7 188.04,325.57 189.49,325.45 190.94,325.33 192.39,325.22 193.84,325.1 195.29,324.99 196.74,324.89 198.19,324.78 199.64,324.68 201.09,324.59 202.54,324.49 203.99,324.4 205.44,324.31 206.89,324.23 208.34,324.14 209.79,324.06 211.24,323.99 212.69,323.91 214.14,323.84 215.59,323.76 217.04,323.69 218.49,323.63 219.94,323.56 221.39,323.5 222.84,323.43 224.29,323.38 225.74,323.32 227.19,323.26 228.64,323.21 230.09,323.15 231.54,323.1 232.99,323.05 234.44,323 235.89,322.95 237.34,322.91 238.79,322.86 240.24,322.82 241.69,322.78 243.14,322.74 244.59,322.7 246.04,322.66 247.49,322.62 248.94,322.59 250.39,322.55 251.84,322.52 253.29,322.49 254.74,322.45 256.19,322.42 257.64,322.39 259.09,322.36 260.54,322.34 261.99,322.31 263.44,322.28 264.88,322.26 266.33,322.23 267.78,322.21 269.23,322.18 270.68,322.16 272.13,322.14 273.58,322.12 275.03,322.1 276.48,322.07 277.93,322.06 279.38,322.04" fill="none" stroke="#4a72c0" stroke-width="0.85" stroke-linejoin="round"/>
<line x1="65.5" y1="377.3" x2="65.5" y2="390.61" stroke="#333" stroke-width="1"/>
<line x1="65.6" y1="360.5" x2="65.6" y2="367.5" stroke="#000" stroke-width="1.2"/>
<polygon points="63.4,366.8 67.8,366.8 65.6,371.6" fill="#000"/>
<line x1="47.4" y1="303.61" x2="47.4" y2="391.11" stroke="#222" stroke-width="1.2"/>
<line x1="47.4" y1="390.61" x2="280" y2="390.61" stroke="#444" stroke-width="1.2"/>
<line x1="47.4" y1="390.61" x2="47.4" y2="392.01" stroke="#666" stroke-width="0.5"/>
<line x1="49.82" y1="390.61" x2="49.82" y2="392.01" stroke="#666" stroke-width="0.5"/>
<line x1="52.23" y1="390.61" x2="52.23" y2="392.01" stroke="#666" stroke-width="0.5"/>
<line x1="54.65" y1="390.61" x2="54.65" y2="392.01" stroke="#666" stroke-width="0.5"/>
<line x1="57.07" y1="390.61" x2="57.07" y2="392.01" stroke="#666" stroke-width="0.5"/>
<line x1="59.48" y1="390.61" x2="59.48" y2="392.01" stroke="#666" stroke-width="0.5"/>
<line x1="61.9" y1="390.61" x2="61.9" y2="392.01" stroke="#666" stroke-width="0.5"/>
<line x1="64.32" y1="390.61" x2="64.32" y2="392.01" stroke="#666" stroke-width="0.5"/>
<line x1="66.73" y1="390.61" x2="66.73" y2="392.01" stroke="#666" stroke-width="0.5"/>
<line x1="69.15" y1="390.61" x2="69.15" y2="392.01" stroke="#666" stroke-width="0.5"/>
<line x1="71.56" y1="390.61" x2="71.56" y2="392.01" stroke="#666" stroke-width="0.5"/>
<line x1="73.98" y1="390.61" x2="73.98" y2="392.01" stroke="#666" stroke-width="0.5"/>
<line x1="76.4" y1="390.61" x2="76.4" y2="392.01" stroke="#666" stroke-width="0.5"/>
<line x1="78.81" y1="390.61" x2="78.81" y2="392.01" stroke="#666" stroke-width="0.5"/>
<line x1="81.23" y1="390.61" x2="81.23" y2="392.01" stroke="#666" stroke-width="0.5"/>
<line x1="83.65" y1="390.61" x2="83.65" y2="392.01" stroke="#666" stroke-width="0.5"/>
<line x1="86.06" y1="390.61" x2="86.06" y2="392.01" stroke="#666" stroke-width="0.5"/>
<line x1="88.48" y1="390.61" x2="88.48" y2="392.01" stroke="#666" stroke-width="0.5"/>
<line x1="90.9" y1="390.61" x2="90.9" y2="392.01" stroke="#666" stroke-width="0.5"/>
<line x1="93.31" y1="390.61" x2="93.31" y2="392.01" stroke="#666" stroke-width="0.5"/>
<line x1="95.73" y1="390.61" x2="95.73" y2="392.01" stroke="#666" stroke-width="0.5"/>
<line x1="98.15" y1="390.61" x2="98.15" y2="392.01" stroke="#666" stroke-width="0.5"/>
<line x1="100.56" y1="390.61" x2="100.56" y2="392.01" stroke="#666" stroke-width="0.5"/>
<line x1="102.98" y1="390.61" x2="102.98" y2="392.01" stroke="#666" stroke-width="0.5"/>
<line x1="105.4" y1="390.61" x2="105.4" y2="392.01" stroke="#666" stroke-width="0.5"/>
<line x1="107.81" y1="390.61" x2="107.81" y2="392.01" stroke="#666" stroke-width="0.5"/>
<line x1="110.23" y1="390.61" x2="110.23" y2="392.01" stroke="#666" stroke-width="0.5"/>
<line x1="112.65" y1="390.61" x2="112.65" y2="392.01" stroke="#666" stroke-width="0.5"/>
<line x1="115.06" y1="390.61" x2="115.06" y2="392.01" stroke="#666" stroke-width="0.5"/>
<line x1="117.48" y1="390.61" x2="117.48" y2="392.01" stroke="#666" stroke-width="0.5"/>
<line x1="119.9" y1="390.61" x2="119.9" y2="392.01" stroke="#666" stroke-width="0.5"/>
<line x1="122.31" y1="390.61" x2="122.31" y2="392.01" stroke="#666" stroke-width="0.5"/>
<line x1="124.73" y1="390.61" x2="124.73" y2="392.01" stroke="#666" stroke-width="0.5"/>
<line x1="127.14" y1="390.61" x2="127.14" y2="392.01" stroke="#666" stroke-width="0.5"/>
<line x1="129.56" y1="390.61" x2="129.56" y2="392.01" stroke="#666" stroke-width="0.5"/>
<line x1="131.98" y1="390.61" x2="131.98" y2="392.01" stroke="#666" stroke-width="0.5"/>
<line x1="134.39" y1="390.61" x2="134.39" y2="392.01" stroke="#666" stroke-width="0.5"/>
<line x1="136.81" y1="390.61" x2="136.81" y2="392.01" stroke="#666" stroke-width="0.5"/>
<line x1="139.23" y1="390.61" x2="139.23" y2="392.01" stroke="#666" stroke-width="0.5"/>
<line x1="141.64" y1="390.61" x2="141.64" y2="392.01" stroke="#666" stroke-width="0.5"/>
<line x1="144.06" y1="390.61" x2="144.06" y2="392.01" stroke="#666" stroke-width="0.5"/>
<line x1="146.48" y1="390.61" x2="146.48" y2="392.01" stroke="#666" stroke-width="0.5"/>
<line x1="148.89" y1="390.61" x2="148.89" y2="392.01" stroke="#666" stroke-width="0.5"/>
<line x1="151.31" y1="390.61" x2="151.31" y2="392.01" stroke="#666" stroke-width="0.5"/>
<line x1="153.73" y1="390.61" x2="153.73" y2="392.01" stroke="#666" stroke-width="0.5"/>
<line x1="156.14" y1="390.61" x2="156.14" y2="392.01" stroke="#666" stroke-width="0.5"/>
<line x1="158.56" y1="390.61" x2="158.56" y2="392.01" stroke="#666" stroke-width="0.5"/>
<line x1="160.98" y1="390.61" x2="160.98" y2="392.01" stroke="#666" stroke-width="0.5"/>
<line x1="163.39" y1="390.61" x2="163.39" y2="392.01" stroke="#666" stroke-width="0.5"/>
<line x1="165.81" y1="390.61" x2="165.81" y2="392.01" stroke="#666" stroke-width="0.5"/>
<line x1="168.22" y1="390.61" x2="168.22" y2="392.01" stroke="#666" stroke-width="0.5"/>
<line x1="170.64" y1="390.61" x2="170.64" y2="392.01" stroke="#666" stroke-width="0.5"/>
<line x1="173.06" y1="390.61" x2="173.06" y2="392.01" stroke="#666" stroke-width="0.5"/>
<line x1="175.47" y1="390.61" x2="175.47" y2="392.01" stroke="#666" stroke-width="0.5"/>
<line x1="177.89" y1="390.61" x2="177.89" y2="392.01" stroke="#666" stroke-width="0.5"/>
<line x1="180.31" y1="390.61" x2="180.31" y2="392.01" stroke="#666" stroke-width="0.5"/>
<line x1="182.72" y1="390.61" x2="182.72" y2="392.01" stroke="#666" stroke-width="0.5"/>
<line x1="185.14" y1="390.61" x2="185.14" y2="392.01" stroke="#666" stroke-width="0.5"/>
<line x1="187.56" y1="390.61" x2="187.56" y2="392.01" stroke="#666" stroke-width="0.5"/>
<line x1="189.97" y1="390.61" x2="189.97" y2="392.01" stroke="#666" stroke-width="0.5"/>
<line x1="192.39" y1="390.61" x2="192.39" y2="392.01" stroke="#666" stroke-width="0.5"/>
<line x1="194.81" y1="390.61" x2="194.81" y2="392.01" stroke="#666" stroke-width="0.5"/>
<line x1="197.22" y1="390.61" x2="197.22" y2="392.01" stroke="#666" stroke-width="0.5"/>
<line x1="199.64" y1="390.61" x2="199.64" y2="392.01" stroke="#666" stroke-width="0.5"/>
<line x1="202.06" y1="390.61" x2="202.06" y2="392.01" stroke="#666" stroke-width="0.5"/>
<line x1="204.47" y1="390.61" x2="204.47" y2="392.01" stroke="#666" stroke-width="0.5"/>
<line x1="206.89" y1="390.61" x2="206.89" y2="392.01" stroke="#666" stroke-width="0.5"/>
<line x1="209.31" y1="390.61" x2="209.31" y2="392.01" stroke="#666" stroke-width="0.5"/>
<line x1="211.72" y1="390.61" x2="211.72" y2="392.01" stroke="#666" stroke-width="0.5"/>
<line x1="214.14" y1="390.61" x2="214.14" y2="392.01" stroke="#666" stroke-width="0.5"/>
<line x1="216.56" y1="390.61" x2="216.56" y2="392.01" stroke="#666" stroke-width="0.5"/>
<line x1="218.97" y1="390.61" x2="218.97" y2="392.01" stroke="#666" stroke-width="0.5"/>
<line x1="221.39" y1="390.61" x2="221.39" y2="392.01" stroke="#666" stroke-width="0.5"/>
<line x1="223.8" y1="390.61" x2="223.8" y2="392.01" stroke="#666" stroke-width="0.5"/>
<line x1="226.22" y1="390.61" x2="226.22" y2="392.01" stroke="#666" stroke-width="0.5"/>
<line x1="228.64" y1="390.61" x2="228.64" y2="392.01" stroke="#666" stroke-width="0.5"/>
<line x1="231.05" y1="390.61" x2="231.05" y2="392.01" stroke="#666" stroke-width="0.5"/>
<line x1="233.47" y1="390.61" x2="233.47" y2="392.01" stroke="#666" stroke-width="0.5"/>
<line x1="235.89" y1="390.61" x2="235.89" y2="392.01" stroke="#666" stroke-width="0.5"/>
<line x1="238.3" y1="390.61" x2="238.3" y2="392.01" stroke="#666" stroke-width="0.5"/>
<line x1="240.72" y1="390.61" x2="240.72" y2="392.01" stroke="#666" stroke-width="0.5"/>
<line x1="243.14" y1="390.61" x2="243.14" y2="392.01" stroke="#666" stroke-width="0.5"/>
<line x1="245.55" y1="390.61" x2="245.55" y2="392.01" stroke="#666" stroke-width="0.5"/>
<line x1="247.97" y1="390.61" x2="247.97" y2="392.01" stroke="#666" stroke-width="0.5"/>
<line x1="250.39" y1="390.61" x2="250.39" y2="392.01" stroke="#666" stroke-width="0.5"/>
<line x1="252.8" y1="390.61" x2="252.8" y2="392.01" stroke="#666" stroke-width="0.5"/>
<line x1="255.22" y1="390.61" x2="255.22" y2="392.01" stroke="#666" stroke-width="0.5"/>
<line x1="257.64" y1="390.61" x2="257.64" y2="392.01" stroke="#666" stroke-width="0.5"/>
<line x1="260.05" y1="390.61" x2="260.05" y2="392.01" stroke="#666" stroke-width="0.5"/>
<line x1="262.47" y1="390.61" x2="262.47" y2="392.01" stroke="#666" stroke-width="0.5"/>
<line x1="264.88" y1="390.61" x2="264.88" y2="392.01" stroke="#666" stroke-width="0.5"/>
<line x1="267.3" y1="390.61" x2="267.3" y2="392.01" stroke="#666" stroke-width="0.5"/>
<line x1="269.72" y1="390.61" x2="269.72" y2="392.01" stroke="#666" stroke-width="0.5"/>
<line x1="272.13" y1="390.61" x2="272.13" y2="392.01" stroke="#666" stroke-width="0.5"/>
<line x1="274.55" y1="390.61" x2="274.55" y2="392.01" stroke="#666" stroke-width="0.5"/>
<line x1="276.97" y1="390.61" x2="276.97" y2="392.01" stroke="#666" stroke-width="0.5"/>
<line x1="279.38" y1="390.61" x2="279.38" y2="392.01" stroke="#666" stroke-width="0.5"/>
<text x="43.4" y="392.21" font-size="4.6" fill="#3a3a3a" stroke="#3a3a3a" stroke-width="0.15" text-anchor="end">-20</text>
<line x1="47.4" y1="390.61" x2="48.9" y2="390.61" stroke="#444" stroke-width="0.6"/>
<text x="43.4" y="385.55" font-size="4.6" fill="#3a3a3a" stroke="#3a3a3a" stroke-width="0.15" text-anchor="end">-10</text>
<line x1="47.4" y1="383.95" x2="48.9" y2="383.95" stroke="#444" stroke-width="0.6"/>
<text x="43.4" y="378.9" font-size="4.6" fill="#3a3a3a" stroke="#3a3a3a" stroke-width="0.15" text-anchor="end">0</text>
<line x1="47.4" y1="377.3" x2="48.9" y2="377.3" stroke="#444" stroke-width="0.6"/>
<text x="43.4" y="372.25" font-size="4.6" fill="#3a3a3a" stroke="#3a3a3a" stroke-width="0.15" text-anchor="end">10</text>
<line x1="47.4" y1="370.65" x2="48.9" y2="370.65" stroke="#444" stroke-width="0.6"/>
<text x="43.4" y="365.59" font-size="4.6" fill="#3a3a3a" stroke="#3a3a3a" stroke-width="0.15" text-anchor="end">20</text>
<line x1="47.4" y1="363.99" x2="48.9" y2="363.99" stroke="#444" stroke-width="0.6"/>
<text x="43.4" y="358.94" font-size="4.6" fill="#3a3a3a" stroke="#3a3a3a" stroke-width="0.15" text-anchor="end">30</text>
<line x1="47.4" y1="357.34" x2="48.9" y2="357.34" stroke="#444" stroke-width="0.6"/>
<text x="43.4" y="352.28" font-size="4.6" fill="#3a3a3a" stroke="#3a3a3a" stroke-width="0.15" text-anchor="end">40</text>
<line x1="47.4" y1="350.68" x2="48.9" y2="350.68" stroke="#444" stroke-width="0.6"/>
<text x="43.4" y="345.63" font-size="4.6" fill="#3a3a3a" stroke="#3a3a3a" stroke-width="0.15" text-anchor="end">50</text>
<line x1="47.4" y1="344.03" x2="48.9" y2="344.03" stroke="#444" stroke-width="0.6"/>
<text x="43.4" y="338.98" font-size="4.6" fill="#3a3a3a" stroke="#3a3a3a" stroke-width="0.15" text-anchor="end">60</text>
<line x1="47.4" y1="337.38" x2="48.9" y2="337.38" stroke="#444" stroke-width="0.6"/>
<text x="43.4" y="332.32" font-size="4.6" fill="#3a3a3a" stroke="#3a3a3a" stroke-width="0.15" text-anchor="end">70</text>
<line x1="47.4" y1="330.72" x2="48.9" y2="330.72" stroke="#444" stroke-width="0.6"/>
<text x="43.4" y="325.67" font-size="4.6" fill="#3a3a3a" stroke="#3a3a3a" stroke-width="0.15" text-anchor="end">80</text>
<line x1="47.4" y1="324.07" x2="48.9" y2="324.07" stroke="#444" stroke-width="0.6"/>
<text x="43.4" y="319.01" font-size="4.6" fill="#3a3a3a" stroke="#3a3a3a" stroke-width="0.15" text-anchor="end">90</text>
<line x1="47.4" y1="317.41" x2="48.9" y2="317.41" stroke="#444" stroke-width="0.6"/>
<text x="43.4" y="312.36" font-size="4.6" fill="#3a3a3a" stroke="#3a3a3a" stroke-width="0.15" text-anchor="end">100</text>
<line x1="47.4" y1="310.76" x2="48.9" y2="310.76" stroke="#444" stroke-width="0.6"/>
<text x="43.4" y="305.71" font-size="4.6" fill="#3a3a3a" stroke="#3a3a3a" stroke-width="0.15" text-anchor="end">110</text>
<line x1="47.4" y1="304.11" x2="48.9" y2="304.11" stroke="#444" stroke-width="0.6"/>
<text x="47.4" y="397.7" font-size="4.6" fill="#3a3a3a" stroke="#3a3a3a" stroke-width="0.15" text-anchor="middle">0</text>
<text x="57.07" y="397.7" font-size="4.6" fill="#3a3a3a" stroke="#3a3a3a" stroke-width="0.15" text-anchor="middle">20</text>
<text x="66.73" y="397.7" font-size="4.6" fill="#3a3a3a" stroke="#3a3a3a" stroke-width="0.15" text-anchor="middle">40</text>
<text x="76.4" y="397.7" font-size="4.6" fill="#3a3a3a" stroke="#3a3a3a" stroke-width="0.15" text-anchor="middle">60</text>
<text x="86.06" y="397.7" font-size="4.6" fill="#3a3a3a" stroke="#3a3a3a" stroke-width="0.15" text-anchor="middle">80</text>
<text x="95.73" y="397.7" font-size="4.6" fill="#3a3a3a" stroke="#3a3a3a" stroke-width="0.15" text-anchor="middle">100</text>
<text x="105.4" y="397.7" font-size="4.6" fill="#3a3a3a" stroke="#3a3a3a" stroke-width="0.15" text-anchor="middle">120</text>
<text x="115.06" y="397.7" font-size="4.6" fill="#3a3a3a" stroke="#3a3a3a" stroke-width="0.15" text-anchor="middle">140</text>
<text x="124.73" y="397.7" font-size="4.6" fill="#3a3a3a" stroke="#3a3a3a" stroke-width="0.15" text-anchor="middle">160</text>
<text x="134.39" y="397.7" font-size="4.6" fill="#3a3a3a" stroke="#3a3a3a" stroke-width="0.15" text-anchor="middle">180</text>
<text x="144.06" y="397.7" font-size="4.6" fill="#3a3a3a" stroke="#3a3a3a" stroke-width="0.15" text-anchor="middle">200</text>
<text x="153.73" y="397.7" font-size="4.6" fill="#3a3a3a" stroke="#3a3a3a" stroke-width="0.15" text-anchor="middle">220</text>
<text x="163.39" y="397.7" font-size="4.6" fill="#3a3a3a" stroke="#3a3a3a" stroke-width="0.15" text-anchor="middle">240</text>
<text x="173.06" y="397.7" font-size="4.6" fill="#3a3a3a" stroke="#3a3a3a" stroke-width="0.15" text-anchor="middle">260</text>
<text x="182.72" y="397.7" font-size="4.6" fill="#3a3a3a" stroke="#3a3a3a" stroke-width="0.15" text-anchor="middle">280</text>
<text x="192.39" y="397.7" font-size="4.6" fill="#3a3a3a" stroke="#3a3a3a" stroke-width="0.15" text-anchor="middle">300</text>
<text x="202.06" y="397.7" font-size="4.6" fill="#3a3a3a" stroke="#3a3a3a" stroke-width="0.15" text-anchor="middle">320</text>
<text x="211.72" y="397.7" font-size="4.6" fill="#3a3a3a" stroke="#3a3a3a" stroke-width="0.15" text-anchor="middle">340</text>
<text x="221.39" y="397.7" font-size="4.6" fill="#3a3a3a" stroke="#3a3a3a" stroke-width="0.15" text-anchor="middle">360</text>
<text x="231.05" y="397.7" font-size="4.6" fill="#3a3a3a" stroke="#3a3a3a" stroke-width="0.15" text-anchor="middle">380</text>
<text x="240.72" y="397.7" font-size="4.6" fill="#3a3a3a" stroke="#3a3a3a" stroke-width="0.15" text-anchor="middle">400</text>
<text x="250.39" y="397.7" font-size="4.6" fill="#3a3a3a" stroke="#3a3a3a" stroke-width="0.15" text-anchor="middle">420</text>
<text x="260.05" y="397.7" font-size="4.6" fill="#3a3a3a" stroke="#3a3a3a" stroke-width="0.15" text-anchor="middle">440</text>
<text x="269.72" y="397.7" font-size="4.6" fill="#3a3a3a" stroke="#3a3a3a" stroke-width="0.15" text-anchor="middle">460</text>
<text x="279.38" y="397.7" font-size="4.6" fill="#3a3a3a" stroke="#3a3a3a" stroke-width="0.15" text-anchor="middle">480</text>
<line x1="200" y1="356.3" x2="209.2" y2="356.3" stroke="#d42a2a" stroke-width="2"/>
<line x1="200" y1="365.1" x2="209.2" y2="365.1" stroke="#3c6fd8" stroke-width="2"/>
<line x1="200" y1="373.9" x2="209.2" y2="373.9" stroke="#2e7d2e" stroke-width="2"/>
<line x1="200" y1="383.4" x2="209.2" y2="383.4" stroke="#3b1a0a" stroke-width="2"/>
<text x="211.1" y="359.1" font-size="7.4" fill="#2a2a2a" stroke="#2a2a2a" stroke-width="0.15" font-style="italic" textLength="10.6" lengthAdjust="spacingAndGlyphs">Bax</text>
<text x="222.5" y="355.9" font-size="5.33" fill="#2a2a2a" stroke="#2a2a2a" stroke-width="0.15" textLength="8.6" lengthAdjust="spacingAndGlyphs">+/+</text>
<text x="233.8" y="359.1" font-size="7.4" fill="#2a2a2a" stroke="#2a2a2a" stroke-width="0.15" font-style="italic" textLength="11.1" lengthAdjust="spacingAndGlyphs">Bax</text>
<text x="245.5" y="355.9" font-size="5.33" fill="#2a2a2a" stroke="#2a2a2a" stroke-width="0.15" textLength="8.7" lengthAdjust="spacingAndGlyphs">+/+</text>
<text x="211.1" y="368" font-size="7.4" fill="#2a2a2a" stroke="#2a2a2a" stroke-width="0.15" font-style="italic" textLength="10.6" lengthAdjust="spacingAndGlyphs">Bak</text>
<text x="221.8" y="364.8" font-size="5.33" fill="#2a2a2a" stroke="#2a2a2a" stroke-width="0.15" textLength="6.3" lengthAdjust="spacingAndGlyphs">-/-</text>
<text x="230.8" y="368" font-size="7.4" fill="#2a2a2a" stroke="#2a2a2a" stroke-width="0.15" font-style="italic" textLength="11" lengthAdjust="spacingAndGlyphs">Bax</text>
<text x="242.5" y="364.8" font-size="5.33" fill="#2a2a2a" stroke="#2a2a2a" stroke-width="0.15" font-style="italic" textLength="6.1" lengthAdjust="spacingAndGlyphs">fl/fl</text>
<text x="211.1" y="376.7" font-size="7.4" fill="#2a2a2a" stroke="#2a2a2a" stroke-width="0.15" font-style="italic" textLength="10.6" lengthAdjust="spacingAndGlyphs">Bak</text>
<text x="222.5" y="373.5" font-size="5.33" fill="#2a2a2a" stroke="#2a2a2a" stroke-width="0.15" textLength="8.6" lengthAdjust="spacingAndGlyphs">+/+</text>
<text x="233.8" y="376.7" font-size="7.4" fill="#2a2a2a" stroke="#2a2a2a" stroke-width="0.15" font-style="italic" textLength="11.1" lengthAdjust="spacingAndGlyphs">Bax</text>
<text x="244.9" y="373.5" font-size="5.33" fill="#2a2a2a" stroke="#2a2a2a" stroke-width="0.15" font-style="italic" textLength="24.6" lengthAdjust="spacingAndGlyphs">PF4Δ/PF4Δ</text>
<text x="211.1" y="385.9" font-size="7.4" fill="#2a2a2a" stroke="#2a2a2a" stroke-width="0.15" font-style="italic" textLength="10.6" lengthAdjust="spacingAndGlyphs">Bak</text>
<text x="221.8" y="382.7" font-size="5.33" fill="#2a2a2a" stroke="#2a2a2a" stroke-width="0.15" textLength="6.3" lengthAdjust="spacingAndGlyphs">-/-</text>
<text x="231.4" y="385.9" font-size="7.4" fill="#2a2a2a" stroke="#2a2a2a" stroke-width="0.15" font-style="italic" textLength="10.8" lengthAdjust="spacingAndGlyphs">Bax</text>
<text x="242.7" y="382.7" font-size="5.33" fill="#2a2a2a" stroke="#2a2a2a" stroke-width="0.15" font-style="italic" textLength="24.1" lengthAdjust="spacingAndGlyphs">PF4Δ/PF4Δ</text>
<text transform="translate(28.8,360.6) rotate(-90)" font-size="9.2" fill="#222" stroke="#222" stroke-width="0.15" text-anchor="middle" textLength="52" lengthAdjust="spacingAndGlyphs">Aggregation (%)</text>
<line x1="33" y1="321.5" x2="33" y2="403.6" stroke="#000" stroke-width="1.3"/>
<polygon points="30.6,323.5 35.4,323.5 33,317.6" fill="#000"/>
<line x1="52.5" y1="411.9" x2="232" y2="411.9" stroke="#000" stroke-width="1.4"/>
<polygon points="231,409.5 231,414.3 237,411.9" fill="#000"/>
<text x="144" y="422.8" font-size="9.6" fill="#222" stroke="#222" stroke-width="0.15" text-anchor="middle" textLength="34.4" lengthAdjust="spacingAndGlyphs">Time (sec)</text>
<line x1="329" y1="301.2" x2="329" y2="384.4" stroke="#1a1a1a" stroke-width="1.3"/>
<line x1="328.4" y1="383.75" x2="415" y2="383.75" stroke="#1a1a1a" stroke-width="1.3"/>
<line x1="326" y1="383.75" x2="329" y2="383.75" stroke="#1a1a1a" stroke-width="1.1"/>
<text x="322.8" y="386.75" font-size="8.5" fill="#2a2a2a" stroke="#2a2a2a" stroke-width="0.15" text-anchor="end">0</text>
<line x1="326" y1="365.75" x2="329" y2="365.75" stroke="#1a1a1a" stroke-width="1.1"/>
<text x="322.8" y="368.75" font-size="8.5" fill="#2a2a2a" stroke="#2a2a2a" stroke-width="0.15" text-anchor="end">25</text>
<line x1="326" y1="347.75" x2="329" y2="347.75" stroke="#1a1a1a" stroke-width="1.1"/>
<text x="322.8" y="350.75" font-size="8.5" fill="#2a2a2a" stroke="#2a2a2a" stroke-width="0.15" text-anchor="end">50</text>
<line x1="326" y1="329.75" x2="329" y2="329.75" stroke="#1a1a1a" stroke-width="1.1"/>
<text x="322.8" y="332.75" font-size="8.5" fill="#2a2a2a" stroke="#2a2a2a" stroke-width="0.15" text-anchor="end">75</text>
<line x1="326" y1="311.75" x2="329" y2="311.75" stroke="#1a1a1a" stroke-width="1.1"/>
<text x="322.8" y="314.75" font-size="8.5" fill="#2a2a2a" stroke="#2a2a2a" stroke-width="0.15" text-anchor="end">100</text>
<rect x="333" y="321.97" width="15" height="61.78" fill="#c0062f"/>
<line x1="340.5" y1="322.47" x2="340.5" y2="320.89" stroke="#262626" stroke-width="1.3"/>
<line x1="336.3" y1="320.89" x2="344.7" y2="320.89" stroke="#262626" stroke-width="1.3"/>
<line x1="340.5" y1="383.75" x2="340.5" y2="386.5" stroke="#1a1a1a" stroke-width="1"/>
<rect x="354.25" y="324.28" width="15" height="59.47" fill="#2c4f8a"/>
<line x1="361.75" y1="324.78" x2="361.75" y2="317.08" stroke="#262626" stroke-width="1.3"/>
<line x1="357.55" y1="317.08" x2="365.95" y2="317.08" stroke="#262626" stroke-width="1.3"/>
<line x1="361.75" y1="383.75" x2="361.75" y2="386.5" stroke="#1a1a1a" stroke-width="1"/>
<rect x="375.5" y="324.28" width="15" height="59.47" fill="#6aae3f"/>
<line x1="383" y1="324.78" x2="383" y2="321.04" stroke="#262626" stroke-width="1.3"/>
<line x1="378.8" y1="321.04" x2="387.2" y2="321.04" stroke="#262626" stroke-width="1.3"/>
<line x1="383" y1="383.75" x2="383" y2="386.5" stroke="#1a1a1a" stroke-width="1"/>
<rect x="397" y="327.59" width="15" height="56.16" fill="#5b2468"/>
<line x1="404.5" y1="328.09" x2="404.5" y2="319.24" stroke="#262626" stroke-width="1.3"/>
<line x1="400.3" y1="319.24" x2="408.7" y2="319.24" stroke="#262626" stroke-width="1.3"/>
<line x1="404.5" y1="383.75" x2="404.5" y2="386.5" stroke="#1a1a1a" stroke-width="1"/>
<line x1="340.5" y1="295.5" x2="405.5" y2="295.5" stroke="#222" stroke-width="1.3"/>
<line x1="340.5" y1="293.1" x2="340.5" y2="297.9" stroke="#222" stroke-width="1.1"/>
<line x1="405.5" y1="293.1" x2="405.5" y2="297.9" stroke="#222" stroke-width="1.1"/>
<text x="373" y="293.9" font-size="7.6" fill="#333" stroke="#333" stroke-width="0.15" text-anchor="middle">n.s.</text>
<line x1="340.5" y1="303.25" x2="383.75" y2="303.25" stroke="#222" stroke-width="1.3"/>
<line x1="340.5" y1="300.85" x2="340.5" y2="305.65" stroke="#222" stroke-width="1.1"/>
<line x1="383.75" y1="300.85" x2="383.75" y2="305.65" stroke="#222" stroke-width="1.1"/>
<text x="362.12" y="301.65" font-size="7.6" fill="#333" stroke="#333" stroke-width="0.15" text-anchor="middle">n.s.</text>
<line x1="340.5" y1="310.75" x2="362.5" y2="310.75" stroke="#222" stroke-width="1.3"/>
<line x1="340.5" y1="308.35" x2="340.5" y2="313.15" stroke="#222" stroke-width="1.1"/>
<line x1="362.5" y1="308.35" x2="362.5" y2="313.15" stroke="#222" stroke-width="1.1"/>
<text x="351.5" y="309.15" font-size="7.6" fill="#333" stroke="#333" stroke-width="0.15" text-anchor="middle">n.s.</text>
<text x="309" y="395.6" font-size="8.2" fill="#222" stroke="#222" stroke-width="0.15" font-style="italic" textLength="12.3" lengthAdjust="spacingAndGlyphs">Bak</text>
<text x="309" y="407.2" font-size="8.2" fill="#222" stroke="#222" stroke-width="0.15" font-style="italic" textLength="12.3" lengthAdjust="spacingAndGlyphs">Bax</text>
<text x="340.45" y="395.6" font-size="8.3" fill="#222" stroke="#222" stroke-width="0.15" text-anchor="middle" textLength="13.2" lengthAdjust="spacingAndGlyphs">+/+</text>
<text x="340.45" y="407.2" font-size="8.3" fill="#222" stroke="#222" stroke-width="0.15" text-anchor="middle" textLength="13.2" lengthAdjust="spacingAndGlyphs">+/+</text>
<text x="361.6" y="395.6" font-size="8.3" fill="#222" stroke="#222" stroke-width="0.15" text-anchor="middle" textLength="9.2" lengthAdjust="spacingAndGlyphs">-/-</text>
<text x="361.6" y="407.2" font-size="8.3" fill="#222" stroke="#222" stroke-width="0.15" text-anchor="middle" font-style="italic" textLength="10.8" lengthAdjust="spacingAndGlyphs">fl/fl</text>
<text x="382.75" y="395.6" font-size="8.3" fill="#222" stroke="#222" stroke-width="0.15" text-anchor="middle" textLength="13.2" lengthAdjust="spacingAndGlyphs">+/+</text>
<text x="382.75" y="407.2" font-size="8.3" fill="#222" stroke="#222" stroke-width="0.15" text-anchor="middle" textLength="12.8" lengthAdjust="spacingAndGlyphs">Δ/Δ</text>
<text x="404.2" y="395.6" font-size="8.3" fill="#222" stroke="#222" stroke-width="0.15" text-anchor="middle" textLength="9.2" lengthAdjust="spacingAndGlyphs">-/-</text>
<text x="404.2" y="407.2" font-size="8.3" fill="#222" stroke="#222" stroke-width="0.15" text-anchor="middle" textLength="12.8" lengthAdjust="spacingAndGlyphs">Δ/Δ</text>
<line x1="333" y1="411.8" x2="410.75" y2="411.8" stroke="#1a1a1a" stroke-width="1.3"/>
<text x="371.6" y="421" font-size="8.4" fill="#222" stroke="#222" stroke-width="0.15" text-anchor="middle" textLength="14.8" lengthAdjust="spacingAndGlyphs">APS</text>
<text transform="translate(304.3,343) rotate(-90)" font-size="8.8" fill="#222" stroke="#222" stroke-width="0.15" text-anchor="middle" textLength="68.5" lengthAdjust="spacingAndGlyphs">Max aggregation (%)</text>
<text x="5.2" y="450.1" font-size="11.5" fill="#000" font-weight="bold" textLength="7" lengthAdjust="spacingAndGlyphs">F</text>
<line x1="48.1" y1="462.5" x2="48.1" y2="550.2" stroke="#1a1a1a" stroke-width="1.3"/>
<line x1="47.5" y1="549.6" x2="112" y2="549.6" stroke="#1a1a1a" stroke-width="1.3"/>
<line x1="45.1" y1="549.6" x2="48.1" y2="549.6" stroke="#1a1a1a" stroke-width="1.1"/>
<text x="41.9" y="552.6" font-size="8.5" fill="#2a2a2a" stroke="#2a2a2a" stroke-width="0.15" text-anchor="end">0.0</text>
<line x1="45.1" y1="521.5" x2="48.1" y2="521.5" stroke="#1a1a1a" stroke-width="1.1"/>
<text x="41.9" y="524.5" font-size="8.5" fill="#2a2a2a" stroke="#2a2a2a" stroke-width="0.15" text-anchor="end">0.5</text>
<line x1="45.1" y1="493.4" x2="48.1" y2="493.4" stroke="#1a1a1a" stroke-width="1.1"/>
<text x="41.9" y="496.4" font-size="8.5" fill="#2a2a2a" stroke="#2a2a2a" stroke-width="0.15" text-anchor="end">1.0</text>
<line x1="45.1" y1="465.3" x2="48.1" y2="465.3" stroke="#1a1a1a" stroke-width="1.1"/>
<text x="41.9" y="468.3" font-size="8.5" fill="#2a2a2a" stroke="#2a2a2a" stroke-width="0.15" text-anchor="end">1.5</text>
<rect x="51.4" y="499.02" width="14.6" height="50.58" fill="#c0062f"/>
<line x1="58.7" y1="499.52" x2="58.7" y2="498.18" stroke="#303030" stroke-width="1.3"/>
<line x1="54.5" y1="498.18" x2="62.9" y2="498.18" stroke="#303030" stroke-width="1.3"/>
<line x1="58.7" y1="549.6" x2="58.7" y2="552.3" stroke="#1a1a1a" stroke-width="1"/>
<rect x="72" y="502.95" width="15.5" height="46.65" fill="#2c4f8a"/>
<line x1="79.75" y1="503.45" x2="79.75" y2="500.14" stroke="#303030" stroke-width="1.3"/>
<line x1="75.55" y1="500.14" x2="83.95" y2="500.14" stroke="#303030" stroke-width="1.3"/>
<line x1="79.75" y1="549.6" x2="79.75" y2="552.3" stroke="#1a1a1a" stroke-width="1"/>
<rect x="93.5" y="496.77" width="14.5" height="52.83" fill="#5b2468"/>
<line x1="100.75" y1="497.27" x2="100.75" y2="481.6" stroke="#303030" stroke-width="1.3"/>
<line x1="96.55" y1="481.6" x2="104.95" y2="481.6" stroke="#303030" stroke-width="1.3"/>
<line x1="100.75" y1="549.6" x2="100.75" y2="552.3" stroke="#1a1a1a" stroke-width="1"/>
<line x1="57.8" y1="467.5" x2="101.2" y2="467.5" stroke="#222" stroke-width="1.3"/>
<line x1="57.8" y1="465.1" x2="57.8" y2="469.9" stroke="#222" stroke-width="1.1"/>
<line x1="101.2" y1="465.1" x2="101.2" y2="469.9" stroke="#222" stroke-width="1.1"/>
<text x="81.2" y="465.9" font-size="7.6" fill="#333" stroke="#333" stroke-width="0.15" text-anchor="middle">n.s.</text>
<line x1="57.8" y1="476" x2="80.6" y2="476" stroke="#222" stroke-width="1.3"/>
<line x1="57.8" y1="473.6" x2="57.8" y2="478.4" stroke="#222" stroke-width="1.1"/>
<line x1="80.6" y1="473.6" x2="80.6" y2="478.4" stroke="#222" stroke-width="1.1"/>
<text x="71.2" y="474.4" font-size="7.6" fill="#333" stroke="#333" stroke-width="0.15" text-anchor="middle">n.s.</text>
<text x="27.5" y="560.4" font-size="8.6" fill="#222" stroke="#222" stroke-width="0.15" font-style="italic" textLength="12.9" lengthAdjust="spacingAndGlyphs">Bak</text>
<text x="27.5" y="572.8" font-size="8.6" fill="#222" stroke="#222" stroke-width="0.15" font-style="italic" textLength="12.9" lengthAdjust="spacingAndGlyphs">Bax</text>
<text x="59" y="560.4" font-size="8.6" fill="#222" stroke="#222" stroke-width="0.15" text-anchor="middle" textLength="13.2" lengthAdjust="spacingAndGlyphs">+/+</text>
<text x="59" y="572.8" font-size="8.6" fill="#222" stroke="#222" stroke-width="0.15" text-anchor="middle" textLength="13.2" lengthAdjust="spacingAndGlyphs">+/+</text>
<text x="79.8" y="560.4" font-size="8.6" fill="#222" stroke="#222" stroke-width="0.15" text-anchor="middle" textLength="9.2" lengthAdjust="spacingAndGlyphs">-/-</text>
<text x="79.8" y="572.8" font-size="8.6" fill="#222" stroke="#222" stroke-width="0.15" text-anchor="middle" font-style="italic" textLength="10.8" lengthAdjust="spacingAndGlyphs">fl/fl</text>
<text x="101.4" y="560.4" font-size="8.6" fill="#222" stroke="#222" stroke-width="0.15" text-anchor="middle" textLength="9.2" lengthAdjust="spacingAndGlyphs">-/-</text>
<text x="101.4" y="572.8" font-size="8.6" fill="#222" stroke="#222" stroke-width="0.15" text-anchor="middle" textLength="12.8" lengthAdjust="spacingAndGlyphs">Δ/Δ</text>
<line x1="52.3" y1="575.6" x2="107.3" y2="575.6" stroke="#1a1a1a" stroke-width="1.3"/>
<text x="79" y="584.6" font-size="8.4" fill="#222" stroke="#222" stroke-width="0.15" text-anchor="middle" textLength="14.7" lengthAdjust="spacingAndGlyphs">APS</text>
<text transform="translate(25.2,505.6) rotate(-90)" font-size="8.8" fill="#222" stroke="#222" stroke-width="0.15" text-anchor="middle" textLength="71.5" lengthAdjust="spacingAndGlyphs">ATP release (ratio/wt)</text>
<text x="127.6" y="449.8" font-size="11.5" fill="#000" font-weight="bold" textLength="8.8" lengthAdjust="spacingAndGlyphs">G</text>
<line x1="159.4" y1="459.5" x2="159.4" y2="546.6" stroke="#1a1a1a" stroke-width="1.3"/>
<line x1="386.9" y1="458.3" x2="386.9" y2="546.6" stroke="#1a1a1a" stroke-width="1.3"/>
<line x1="158.8" y1="546" x2="387.5" y2="546" stroke="#1a1a1a" stroke-width="1.3"/>
<line x1="159.4" y1="471.2" x2="386.9" y2="471.2" stroke="#1a1a1a" stroke-width="1.5"/>
<line x1="156.4" y1="546.2" x2="159.4" y2="546.2" stroke="#1a1a1a" stroke-width="1.1"/>
<text x="153.6" y="549.2" font-size="8.5" fill="#2a2a2a" stroke="#2a2a2a" stroke-width="0.15" text-anchor="end">0</text>
<line x1="156.4" y1="521.2" x2="159.4" y2="521.2" stroke="#1a1a1a" stroke-width="1.1"/>
<text x="153.6" y="524.2" font-size="8.5" fill="#2a2a2a" stroke="#2a2a2a" stroke-width="0.15" text-anchor="end">200</text>
<line x1="156.4" y1="496.2" x2="159.4" y2="496.2" stroke="#1a1a1a" stroke-width="1.1"/>
<text x="153.6" y="499.2" font-size="8.5" fill="#2a2a2a" stroke="#2a2a2a" stroke-width="0.15" text-anchor="end">400</text>
<line x1="156.4" y1="471.2" x2="159.4" y2="471.2" stroke="#1a1a1a" stroke-width="1.1"/>
<text x="153.6" y="474.2" font-size="8.5" fill="#2a2a2a" stroke="#2a2a2a" stroke-width="0.15" text-anchor="end">600</text>
<text transform="translate(135,502.5) rotate(-90)" font-size="8.8" fill="#222" stroke="#222" stroke-width="0.15" text-anchor="middle" textLength="33" lengthAdjust="spacingAndGlyphs">Time (sec)</text>
<line x1="173.7" y1="546" x2="173.7" y2="548.8" stroke="#1a1a1a" stroke-width="1"/>
<circle cx="173.7" cy="493.9" r="2" fill="#6e1530" stroke="#151515" stroke-width="0.85"/>
<circle cx="167.3" cy="521.5" r="2" fill="#6e1530" stroke="#151515" stroke-width="0.85"/>
<circle cx="173.7" cy="527.1" r="2" fill="#6e1530" stroke="#151515" stroke-width="0.85"/>
<circle cx="180" cy="526.8" r="2" fill="#6e1530" stroke="#151515" stroke-width="0.85"/>
<circle cx="166.5" cy="529.4" r="2" fill="#6e1530" stroke="#151515" stroke-width="0.85"/>
<circle cx="180.5" cy="529.8" r="2" fill="#6e1530" stroke="#151515" stroke-width="0.85"/>
<circle cx="165.9" cy="532" r="2" fill="#6e1530" stroke="#151515" stroke-width="0.85"/>
<circle cx="168.5" cy="533.2" r="2" fill="#6e1530" stroke="#151515" stroke-width="0.85"/>
<circle cx="171.5" cy="532" r="2" fill="#6e1530" stroke="#151515" stroke-width="0.85"/>
<circle cx="175.5" cy="532" r="2" fill="#6e1530" stroke="#151515" stroke-width="0.85"/>
<circle cx="178.5" cy="531" r="2" fill="#6e1530" stroke="#151515" stroke-width="0.85"/>
<circle cx="181.5" cy="532" r="2" fill="#6e1530" stroke="#151515" stroke-width="0.85"/>
<circle cx="166.3" cy="535.3" r="2" fill="#6e1530" stroke="#151515" stroke-width="0.85"/>
<circle cx="170" cy="536" r="2" fill="#6e1530" stroke="#151515" stroke-width="0.85"/>
<circle cx="173.9" cy="536.3" r="2" fill="#6e1530" stroke="#151515" stroke-width="0.85"/>
<circle cx="177.8" cy="535.7" r="2" fill="#6e1530" stroke="#151515" stroke-width="0.85"/>
<circle cx="180.9" cy="535.6" r="2" fill="#6e1530" stroke="#151515" stroke-width="0.85"/>
<circle cx="168.9" cy="538.2" r="2" fill="#6e1530" stroke="#151515" stroke-width="0.85"/>
<circle cx="172.7" cy="539" r="2" fill="#6e1530" stroke="#151515" stroke-width="0.85"/>
<circle cx="176.5" cy="538.4" r="2" fill="#6e1530" stroke="#151515" stroke-width="0.85"/>
<circle cx="173.7" cy="541.2" r="2" fill="#6e1530" stroke="#151515" stroke-width="0.85"/>
<line x1="164.1" y1="531.9" x2="183.1" y2="531.9" stroke="#111" stroke-width="1.3"/>
<line x1="202.1" y1="546" x2="202.1" y2="548.8" stroke="#1a1a1a" stroke-width="1"/>
<circle cx="202.1" cy="509.7" r="2" fill="#22355c" stroke="#151515" stroke-width="0.85"/>
<circle cx="202.1" cy="523.7" r="2" fill="#22355c" stroke="#151515" stroke-width="0.85"/>
<circle cx="194.9" cy="528.7" r="2" fill="#22355c" stroke="#151515" stroke-width="0.85"/>
<circle cx="199.3" cy="532.5" r="2" fill="#22355c" stroke="#151515" stroke-width="0.85"/>
<circle cx="203.7" cy="533.8" r="2" fill="#22355c" stroke="#151515" stroke-width="0.85"/>
<circle cx="209.4" cy="531.9" r="2" fill="#22355c" stroke="#151515" stroke-width="0.85"/>
<circle cx="195.5" cy="537.6" r="2" fill="#22355c" stroke="#151515" stroke-width="0.85"/>
<circle cx="199.3" cy="538.9" r="2" fill="#22355c" stroke="#151515" stroke-width="0.85"/>
<circle cx="202.1" cy="542" r="2" fill="#22355c" stroke="#151515" stroke-width="0.85"/>
<circle cx="205.6" cy="539.5" r="2" fill="#22355c" stroke="#151515" stroke-width="0.85"/>
<circle cx="208.2" cy="537.6" r="2" fill="#22355c" stroke="#151515" stroke-width="0.85"/>
<circle cx="198.4" cy="464.6" r="2" fill="#22355c" stroke="#151515" stroke-width="0.85"/>
<circle cx="205.1" cy="464.6" r="2" fill="#22355c" stroke="#151515" stroke-width="0.85"/>
<line x1="193" y1="532.5" x2="210.7" y2="532.5" stroke="#111" stroke-width="1.3"/>
<line x1="230.6" y1="546" x2="230.6" y2="548.8" stroke="#1a1a1a" stroke-width="1"/>
<circle cx="223.2" cy="527.2" r="2" fill="#88aa66" stroke="#151515" stroke-width="0.85"/>
<circle cx="230.6" cy="524.1" r="2" fill="#88aa66" stroke="#151515" stroke-width="0.85"/>
<circle cx="237.8" cy="529.2" r="2" fill="#88aa66" stroke="#151515" stroke-width="0.85"/>
<circle cx="225.2" cy="534.3" r="2" fill="#88aa66" stroke="#151515" stroke-width="0.85"/>
<circle cx="228.5" cy="532.9" r="2" fill="#88aa66" stroke="#151515" stroke-width="0.85"/>
<circle cx="232.8" cy="532.6" r="2" fill="#88aa66" stroke="#151515" stroke-width="0.85"/>
<circle cx="226.9" cy="537.6" r="2" fill="#88aa66" stroke="#151515" stroke-width="0.85"/>
<circle cx="231.1" cy="536.8" r="2" fill="#88aa66" stroke="#151515" stroke-width="0.85"/>
<circle cx="235" cy="537.6" r="2" fill="#88aa66" stroke="#151515" stroke-width="0.85"/>
<circle cx="228.5" cy="541" r="2" fill="#88aa66" stroke="#151515" stroke-width="0.85"/>
<circle cx="231.9" cy="540.2" r="2" fill="#88aa66" stroke="#151515" stroke-width="0.85"/>
<circle cx="226.9" cy="464.6" r="2" fill="#88aa66" stroke="#151515" stroke-width="0.85"/>
<circle cx="233.6" cy="464.6" r="2" fill="#88aa66" stroke="#151515" stroke-width="0.85"/>
<line x1="221.5" y1="532.6" x2="240" y2="532.6" stroke="#111" stroke-width="1.3"/>
<line x1="258.9" y1="546" x2="258.9" y2="548.8" stroke="#1a1a1a" stroke-width="1"/>
<circle cx="255.9" cy="493.8" r="2" fill="#1e1a30" stroke="#151515" stroke-width="0.85"/>
<circle cx="262.6" cy="498.8" r="2" fill="#1e1a30" stroke="#151515" stroke-width="0.85"/>
<circle cx="258.9" cy="515.4" r="2" fill="#1e1a30" stroke="#151515" stroke-width="0.85"/>
<circle cx="255.5" cy="529.2" r="2" fill="#1e1a30" stroke="#151515" stroke-width="0.85"/>
<circle cx="262.3" cy="531.2" r="2" fill="#1e1a30" stroke="#151515" stroke-width="0.85"/>
<circle cx="258.9" cy="538" r="2" fill="#1e1a30" stroke="#151515" stroke-width="0.85"/>
<circle cx="253" cy="464.6" r="2" fill="#1e1a30" stroke="#151515" stroke-width="0.85"/>
<circle cx="258.9" cy="464.6" r="2" fill="#1e1a30" stroke="#151515" stroke-width="0.85"/>
<circle cx="265.6" cy="464.6" r="2" fill="#1e1a30" stroke="#151515" stroke-width="0.85"/>
<line x1="249.6" y1="498.8" x2="268.7" y2="498.8" stroke="#111" stroke-width="1.3"/>
<line x1="286.9" y1="546" x2="286.9" y2="548.8" stroke="#1a1a1a" stroke-width="1"/>
<circle cx="281.5" cy="525.4" r="2" fill="#6e1530" stroke="#151515" stroke-width="0.85"/>
<circle cx="286" cy="524.8" r="2" fill="#6e1530" stroke="#151515" stroke-width="0.85"/>
<circle cx="290.7" cy="523.9" r="2" fill="#6e1530" stroke="#151515" stroke-width="0.85"/>
<circle cx="282.3" cy="530" r="2" fill="#6e1530" stroke="#151515" stroke-width="0.85"/>
<circle cx="294.6" cy="530" r="2" fill="#6e1530" stroke="#151515" stroke-width="0.85"/>
<circle cx="284.3" cy="534.3" r="2" fill="#6e1530" stroke="#151515" stroke-width="0.85"/>
<circle cx="289" cy="533" r="2" fill="#6e1530" stroke="#151515" stroke-width="0.85"/>
<circle cx="293.3" cy="535" r="2" fill="#6e1530" stroke="#151515" stroke-width="0.85"/>
<circle cx="283.4" cy="537.8" r="2" fill="#6e1530" stroke="#151515" stroke-width="0.85"/>
<circle cx="287.3" cy="538.8" r="2" fill="#6e1530" stroke="#151515" stroke-width="0.85"/>
<circle cx="291.2" cy="537.8" r="2" fill="#6e1530" stroke="#151515" stroke-width="0.85"/>
<circle cx="286.9" cy="529.5" r="2" fill="#6e1530" stroke="#151515" stroke-width="0.85"/>
<circle cx="292.5" cy="527.5" r="2" fill="#6e1530" stroke="#151515" stroke-width="0.85"/>
<circle cx="286.9" cy="464.6" r="2" fill="#6e1530" stroke="#151515" stroke-width="0.85"/>
<line x1="278.2" y1="532.8" x2="296.7" y2="532.8" stroke="#111" stroke-width="1.3"/>
<line x1="316.1" y1="546" x2="316.1" y2="548.8" stroke="#1a1a1a" stroke-width="1"/>
<circle cx="312.2" cy="498.6" r="2" fill="#22355c" stroke="#151515" stroke-width="0.85"/>
<circle cx="319.1" cy="499.1" r="2" fill="#22355c" stroke="#151515" stroke-width="0.85"/>
<circle cx="319.1" cy="512.9" r="2" fill="#22355c" stroke="#151515" stroke-width="0.85"/>
<circle cx="312.2" cy="516.4" r="2" fill="#22355c" stroke="#151515" stroke-width="0.85"/>
<circle cx="308" cy="528.4" r="2" fill="#22355c" stroke="#151515" stroke-width="0.85"/>
<circle cx="314.6" cy="526.9" r="2" fill="#22355c" stroke="#151515" stroke-width="0.85"/>
<circle cx="323" cy="527.8" r="2" fill="#22355c" stroke="#151515" stroke-width="0.85"/>
<circle cx="311.6" cy="532.8" r="2" fill="#22355c" stroke="#151515" stroke-width="0.85"/>
<circle cx="317.6" cy="532.2" r="2" fill="#22355c" stroke="#151515" stroke-width="0.85"/>
<circle cx="308" cy="540.6" r="2" fill="#22355c" stroke="#151515" stroke-width="0.85"/>
<circle cx="312.5" cy="540.6" r="2" fill="#22355c" stroke="#151515" stroke-width="0.85"/>
<circle cx="317" cy="540.6" r="2" fill="#22355c" stroke="#151515" stroke-width="0.85"/>
<circle cx="321.5" cy="540.6" r="2" fill="#22355c" stroke="#151515" stroke-width="0.85"/>
<circle cx="324.4" cy="539.2" r="2" fill="#22355c" stroke="#151515" stroke-width="0.85"/>
<circle cx="316.1" cy="464.6" r="2" fill="#22355c" stroke="#151515" stroke-width="0.85"/>
<line x1="306.6" y1="528.4" x2="325.3" y2="528.4" stroke="#111" stroke-width="1.3"/>
<line x1="344.4" y1="546" x2="344.4" y2="548.8" stroke="#1a1a1a" stroke-width="1"/>
<circle cx="340.7" cy="524.1" r="2" fill="#88aa66" stroke="#151515" stroke-width="0.85"/>
<circle cx="347.6" cy="524.1" r="2" fill="#88aa66" stroke="#151515" stroke-width="0.85"/>
<circle cx="337.8" cy="531" r="2" fill="#88aa66" stroke="#151515" stroke-width="0.85"/>
<circle cx="341" cy="533.3" r="2" fill="#88aa66" stroke="#151515" stroke-width="0.85"/>
<circle cx="343.8" cy="534.7" r="2" fill="#88aa66" stroke="#151515" stroke-width="0.85"/>
<circle cx="347.3" cy="531.6" r="2" fill="#88aa66" stroke="#151515" stroke-width="0.85"/>
<circle cx="350.5" cy="531" r="2" fill="#88aa66" stroke="#151515" stroke-width="0.85"/>
<circle cx="347.6" cy="536.5" r="2" fill="#88aa66" stroke="#151515" stroke-width="0.85"/>
<circle cx="341" cy="541.7" r="2" fill="#88aa66" stroke="#151515" stroke-width="0.85"/>
<line x1="334.9" y1="531.8" x2="353.7" y2="531.8" stroke="#111" stroke-width="1.3"/>
<line x1="372.7" y1="546" x2="372.7" y2="548.8" stroke="#1a1a1a" stroke-width="1"/>
<circle cx="369.2" cy="511.1" r="2" fill="#1e1a30" stroke="#151515" stroke-width="0.85"/>
<circle cx="375.7" cy="518.2" r="2" fill="#1e1a30" stroke="#151515" stroke-width="0.85"/>
<circle cx="365.3" cy="530.7" r="2" fill="#1e1a30" stroke="#151515" stroke-width="0.85"/>
<circle cx="379.6" cy="534.9" r="2" fill="#1e1a30" stroke="#151515" stroke-width="0.85"/>
<circle cx="375.7" cy="540.3" r="2" fill="#1e1a30" stroke="#151515" stroke-width="0.85"/>
<circle cx="369.2" cy="542.7" r="2" fill="#1e1a30" stroke="#151515" stroke-width="0.85"/>
<line x1="362.9" y1="531.3" x2="382.6" y2="531.3" stroke="#111" stroke-width="1.3"/>
<line x1="173.6" y1="447.3" x2="255.5" y2="447.3" stroke="#222" stroke-width="1.3"/>
<line x1="173.6" y1="444.9" x2="173.6" y2="449.7" stroke="#222" stroke-width="1.1"/>
<line x1="255.5" y1="444.9" x2="255.5" y2="449.7" stroke="#222" stroke-width="1.1"/>
<text x="214.55" y="446.5" font-size="7.6" fill="#333" stroke="#333" stroke-width="0.15" text-anchor="middle">**</text>
<line x1="261" y1="447.3" x2="373.6" y2="447.3" stroke="#222" stroke-width="1.3"/>
<line x1="261" y1="444.9" x2="261" y2="449.7" stroke="#222" stroke-width="1.1"/>
<line x1="373.6" y1="444.9" x2="373.6" y2="449.7" stroke="#222" stroke-width="1.1"/>
<text x="317.3" y="446.5" font-size="7.6" fill="#333" stroke="#333" stroke-width="0.15" text-anchor="middle">*</text>
<line x1="286.3" y1="455.9" x2="373.6" y2="455.9" stroke="#222" stroke-width="1.3"/>
<line x1="286.3" y1="453.5" x2="286.3" y2="458.3" stroke="#222" stroke-width="1.1"/>
<line x1="373.6" y1="453.5" x2="373.6" y2="458.3" stroke="#222" stroke-width="1.1"/>
<text x="329.95" y="454.3" font-size="7.6" fill="#333" stroke="#333" stroke-width="0.15" text-anchor="middle">n.s.</text>
<text x="146.6" y="558.6" font-size="8.4" fill="#222" stroke="#222" stroke-width="0.15" textLength="12.5" lengthAdjust="spacingAndGlyphs">Bak</text>
<text x="146.6" y="569.5" font-size="8.4" fill="#222" stroke="#222" stroke-width="0.15" textLength="12.5" lengthAdjust="spacingAndGlyphs">Bax</text>
<text x="173.7" y="558.6" font-size="8.3" fill="#222" stroke="#222" stroke-width="0.15" text-anchor="middle" textLength="13.2" lengthAdjust="spacingAndGlyphs">+/+</text>
<text x="173.7" y="569.5" font-size="8.3" fill="#222" stroke="#222" stroke-width="0.15" text-anchor="middle" textLength="13.2" lengthAdjust="spacingAndGlyphs">+/+</text>
<text x="202.5" y="558.6" font-size="8.3" fill="#222" stroke="#222" stroke-width="0.15" text-anchor="middle" textLength="9.2" lengthAdjust="spacingAndGlyphs">-/-</text>
<text x="202.5" y="569.5" font-size="8.3" fill="#222" stroke="#222" stroke-width="0.15" text-anchor="middle" font-style="italic" textLength="10.8" lengthAdjust="spacingAndGlyphs">fl/fl</text>
<text x="230.8" y="558.6" font-size="8.3" fill="#222" stroke="#222" stroke-width="0.15" text-anchor="middle" textLength="13.2" lengthAdjust="spacingAndGlyphs">+/+</text>
<text x="230.8" y="569.5" font-size="8.3" fill="#222" stroke="#222" stroke-width="0.15" text-anchor="middle" textLength="9.2" lengthAdjust="spacingAndGlyphs">-/-</text>
<text x="258.8" y="558.6" font-size="8.3" fill="#222" stroke="#222" stroke-width="0.15" text-anchor="middle" textLength="9.2" lengthAdjust="spacingAndGlyphs">-/-</text>
<text x="258.8" y="569.5" font-size="8.3" fill="#222" stroke="#222" stroke-width="0.15" text-anchor="middle" textLength="12.8" lengthAdjust="spacingAndGlyphs">Δ/Δ</text>
<text x="286.9" y="558.6" font-size="8.3" fill="#222" stroke="#222" stroke-width="0.15" text-anchor="middle" textLength="13.2" lengthAdjust="spacingAndGlyphs">+/+</text>
<text x="286.9" y="569.5" font-size="8.3" fill="#222" stroke="#222" stroke-width="0.15" text-anchor="middle" textLength="13.2" lengthAdjust="spacingAndGlyphs">+/+</text>
<text x="316.1" y="558.6" font-size="8.3" fill="#222" stroke="#222" stroke-width="0.15" text-anchor="middle" textLength="9.2" lengthAdjust="spacingAndGlyphs">-/-</text>
<text x="316.1" y="569.5" font-size="8.3" fill="#222" stroke="#222" stroke-width="0.15" text-anchor="middle" font-style="italic" textLength="10.8" lengthAdjust="spacingAndGlyphs">fl/fl</text>
<text x="344.4" y="558.6" font-size="8.3" fill="#222" stroke="#222" stroke-width="0.15" text-anchor="middle" textLength="13.2" lengthAdjust="spacingAndGlyphs">+/+</text>
<text x="344.4" y="569.5" font-size="8.3" fill="#222" stroke="#222" stroke-width="0.15" text-anchor="middle" textLength="9.2" lengthAdjust="spacingAndGlyphs">-/-</text>
<text x="372.7" y="558.6" font-size="8.3" fill="#222" stroke="#222" stroke-width="0.15" text-anchor="middle" textLength="9.2" lengthAdjust="spacingAndGlyphs">-/-</text>
<text x="372.7" y="569.5" font-size="8.3" fill="#222" stroke="#222" stroke-width="0.15" text-anchor="middle" textLength="12.8" lengthAdjust="spacingAndGlyphs">Δ/Δ</text>
<line x1="167.3" y1="575.5" x2="275.8" y2="575.5" stroke="#1a1a1a" stroke-width="1.1"/>
<line x1="279.4" y1="575.5" x2="388.5" y2="575.5" stroke="#1a1a1a" stroke-width="1.1"/>
<text x="222" y="585.1" font-size="8.2" fill="#111" text-anchor="middle" font-weight="bold" textLength="36" lengthAdjust="spacingAndGlyphs">untreated</text>
<text x="335.8" y="585.1" font-size="8.2" fill="#111" text-anchor="middle" font-weight="bold" textLength="14.6" lengthAdjust="spacingAndGlyphs">APS</text>
<rect x="0.5" y="0.5" width="519" height="592" fill="none" stroke="#000" stroke-width="1"/>
<line x1="1.5" y1="1" x2="1.5" y2="592" stroke="#9a9a9a" stroke-width="1"/>
<line x1="1" y1="1.5" x2="519" y2="1.5" stroke="#9a9a9a" stroke-width="1"/>
</svg>
</body></html>
